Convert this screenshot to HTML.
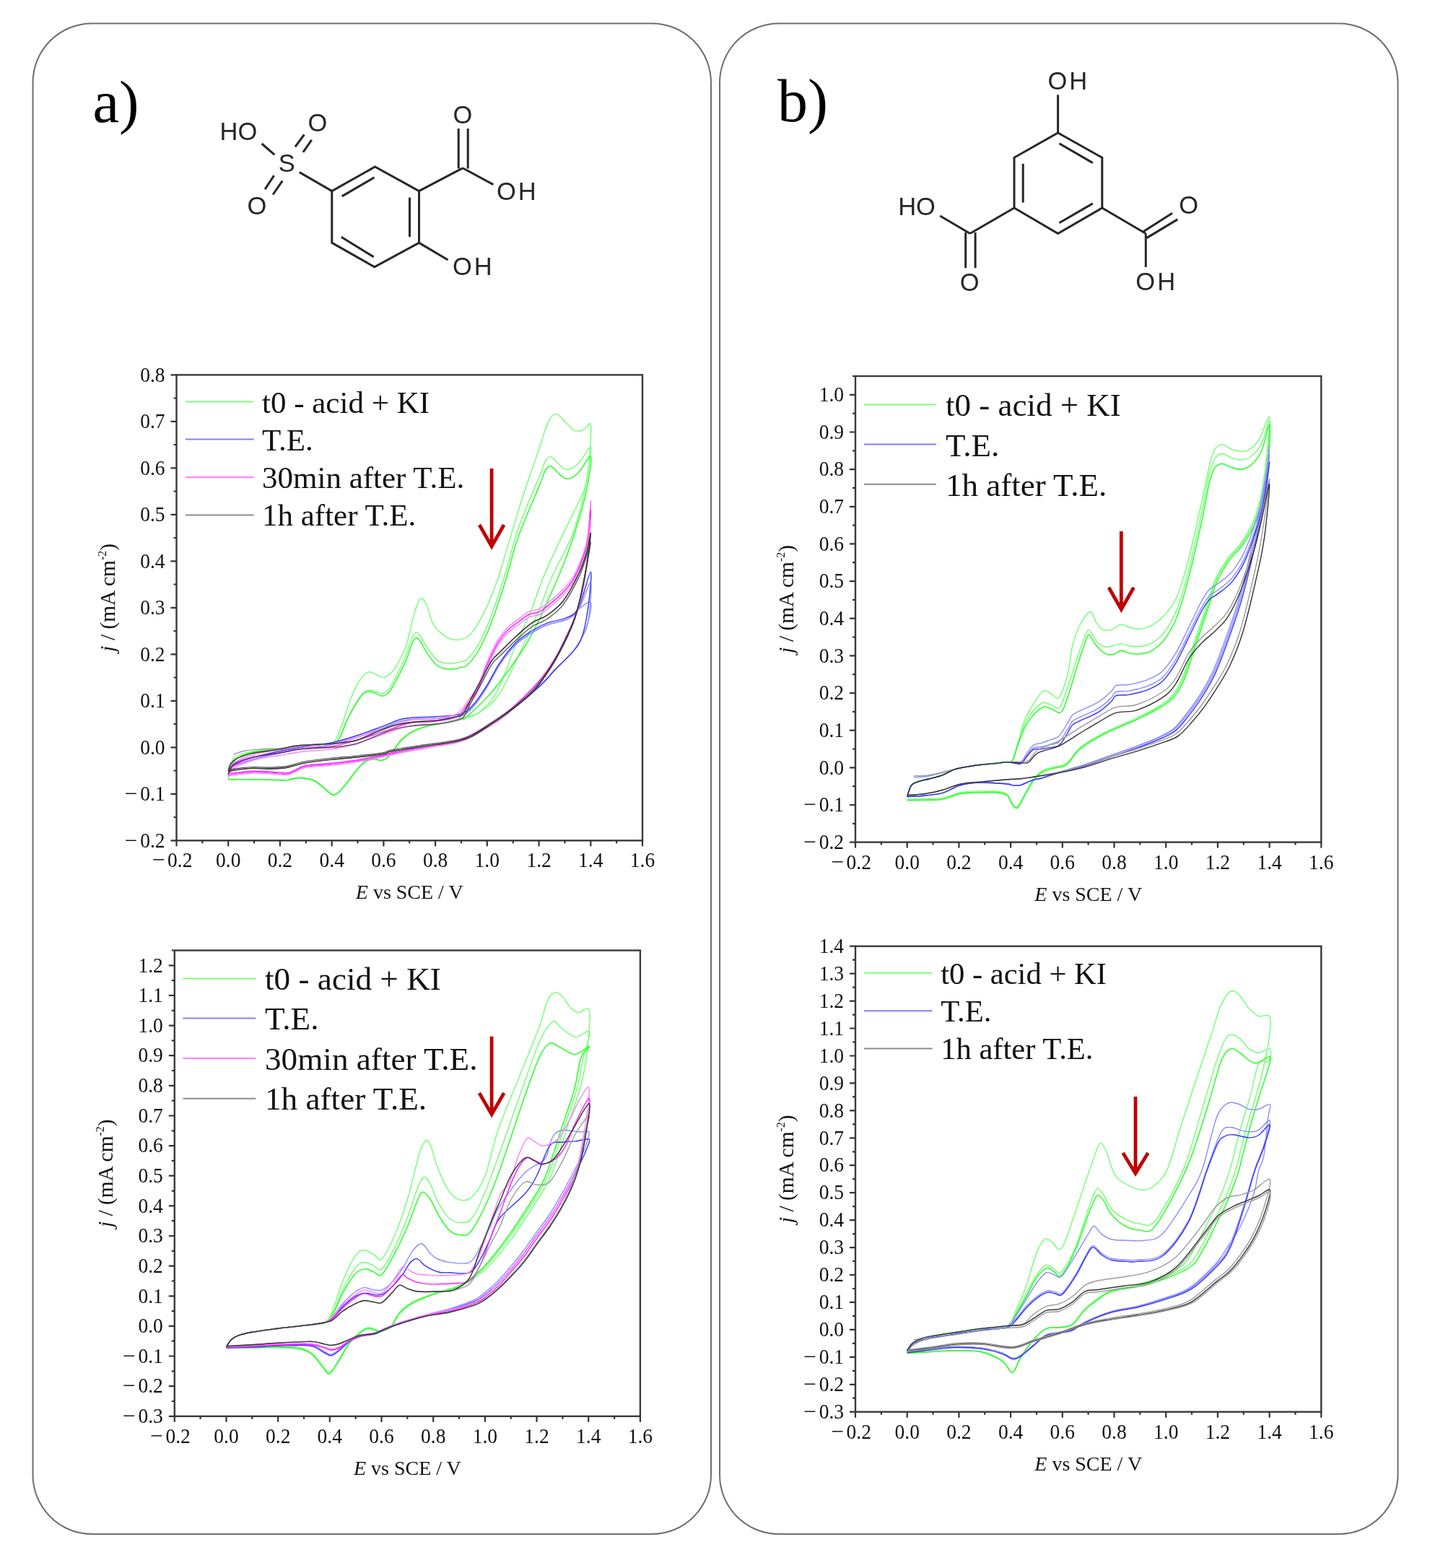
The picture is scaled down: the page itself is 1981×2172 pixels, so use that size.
<!DOCTYPE html><html><head><meta charset="utf-8"><title>CV figure</title>
<style>html,body{margin:0;padding:0;background:#fff;overflow:hidden;}svg{display:block;}</style></head><body>
<svg width="1981" height="2172" viewBox="0 0 1981 2172">
<rect x="0" y="0" width="1981" height="2172" fill="#fff"/>
<rect x="45.5" y="32.5" width="939.5" height="2092.5" rx="82" ry="82" fill="none" stroke="#6e6e6e" stroke-width="2"/>
<rect x="997" y="32.5" width="939.5" height="2092.5" rx="82" ry="82" fill="none" stroke="#6e6e6e" stroke-width="2"/>
<text x="128.5" y="169" font-family="'Liberation Serif','Times New Roman',serif" font-size="82.5" fill="#000">a)</text>
<text x="1077" y="167.8" font-family="'Liberation Serif','Times New Roman',serif" font-size="84" fill="#000">b)</text>
<g stroke="#262626" stroke-width="3" stroke-linecap="butt" fill="none"><polygon points="519.5,231.0 580.5,264.6 580.5,336.4 518.8,369.8 459.8,336.4 459.8,264.6" stroke-linejoin="miter"/><line x1="473.7" y1="271.9" x2="518.5" y2="245.8"/><line x1="567.5" y1="273.6" x2="567.5" y2="328.2"/><line x1="472.8" y1="328.2" x2="517.7" y2="355.9"/><line x1="414.8" y1="238.6" x2="459.8" y2="264.6"/><line x1="362.7" y1="199.0" x2="380.3" y2="214.4"/><line x1="408.9" y1="203.4" x2="421.4" y2="186.5"/><line x1="419.9" y1="210.8" x2="431.7" y2="193.9"/><line x1="379.6" y1="243.1" x2="367.1" y2="262.1"/><line x1="391.3" y1="250.4" x2="378.1" y2="269.5"/><line x1="580.5" y1="264.6" x2="640.9" y2="232.8"/><line x1="635.2" y1="178.1" x2="635.2" y2="233.5"/><line x1="648.2" y1="178.1" x2="648.2" y2="233.5"/><line x1="640.9" y1="232.8" x2="683.3" y2="255.6"/><line x1="580.5" y1="336.4" x2="620.5" y2="360.0"/><polygon points="1465.6,184.0 1526.8,218.3 1526.8,288.0 1465.6,323.5 1405.0,288.0 1405.0,218.3" stroke-linejoin="miter"/><line x1="1467.4" y1="198.7" x2="1513.8" y2="225.6"/><line x1="1417.2" y1="226.8" x2="1417.2" y2="280.6"/><line x1="1467.4" y1="308.8" x2="1513.8" y2="281.9"/><line x1="1465.6" y1="184.0" x2="1465.6" y2="131.4"/><line x1="1405.0" y1="288.0" x2="1343.8" y2="323.5"/><line x1="1337.7" y1="322.0" x2="1337.7" y2="371.2"/><line x1="1351.1" y1="322.0" x2="1351.1" y2="371.2"/><line x1="1343.8" y1="323.5" x2="1302.2" y2="299.0"/><line x1="1526.8" y1="288.0" x2="1587.3" y2="323.5"/><line x1="1583.6" y1="321.0" x2="1624.0" y2="295.3"/><line x1="1588.5" y1="329.6" x2="1631.3" y2="303.9"/><line x1="1587.3" y1="323.5" x2="1587.3" y2="370.0"/></g><g font-family="'Liberation Sans',Arial,sans-serif" font-size="34.5" fill="#262626"><text x="304.5" y="193.8" text-anchor="start" letter-spacing="0">HO</text><text x="426.5" y="181.8" text-anchor="start" letter-spacing="0">O</text><text x="385.8" y="238.4" text-anchor="start" letter-spacing="0">S</text><text x="342.6" y="297.2" text-anchor="start" letter-spacing="0">O</text><text x="627.6" y="170.5" text-anchor="start" letter-spacing="0">O</text><text x="688.0" y="276.6" text-anchor="start" letter-spacing="3">OH</text><text x="626.9" y="381.0" text-anchor="start" letter-spacing="3">OH</text><text x="1451.5" y="123.8" text-anchor="start" letter-spacing="3">OH</text><text x="1244.2" y="297.6" text-anchor="start" letter-spacing="0">HO</text><text x="1329.8" y="402.8" text-anchor="start" letter-spacing="0">O</text><text x="1633.3" y="296.4" text-anchor="start" letter-spacing="0">O</text><text x="1573.3" y="401.6" text-anchor="start" letter-spacing="3">OH</text></g>
<g><path d="M316.2,1064.3 C318.0,1061.6 321.0,1052.2 327.0,1048.2 C333.0,1044.2 341.9,1042.4 352.1,1040.5 C362.2,1038.5 376.0,1037.9 387.9,1036.6 C399.9,1035.3 413.0,1033.8 423.8,1032.7 C434.6,1031.6 445.9,1031.0 452.5,1030.1 C459.1,1029.3 459.7,1032.1 463.3,1027.6 C466.8,1023.0 470.4,1012.5 474.0,1003.0 C477.6,993.6 481.2,980.2 484.8,970.8 C488.4,961.4 492.2,953.0 495.5,946.9 C498.8,940.9 501.8,937.4 504.5,934.7 C507.2,932.0 509.0,930.9 511.7,930.8 C514.4,930.7 517.3,932.7 520.6,934.0 C523.9,935.3 528.1,938.7 531.4,938.5 C534.7,938.4 537.6,935.8 540.4,933.4 C543.1,931.0 544.2,930.7 547.9,924.4 C551.5,918.0 558.0,907.5 562.2,895.3 C566.5,883.2 570.4,861.9 573.3,851.5 C576.3,841.0 578.1,836.5 579.8,832.8 C581.5,829.0 582.2,829.1 583.4,828.9 C584.6,828.7 585.5,829.3 587.0,831.5 C588.5,833.6 590.6,837.3 592.4,841.8 C594.1,846.3 595.6,854.1 597.4,858.6 C599.2,863.1 600.8,865.8 603.1,868.9 C605.4,872.0 608.4,874.8 611.4,877.3 C614.3,879.7 617.9,882.2 621.0,883.7 C624.1,885.2 627.0,886.0 630.0,886.3 C633.0,886.6 635.7,886.6 639.0,885.7 C642.3,884.7 646.0,883.8 649.7,880.5 C653.4,877.2 656.9,872.8 661.2,865.7 C665.5,858.6 670.8,848.5 675.6,837.9 C680.3,827.4 685.3,814.7 689.5,802.5 C693.8,790.2 695.4,783.0 701.0,764.4 C706.6,745.8 715.7,714.5 723.2,690.9 C730.8,667.2 740.6,640.1 746.6,622.5 C752.5,604.9 755.2,593.3 759.1,585.1 C763.0,576.9 766.0,573.7 769.9,573.5 C773.8,573.3 778.5,580.3 782.4,583.8 C786.3,587.3 790.1,592.5 793.2,594.8 C796.3,597.0 798.4,597.3 801.1,597.3 C803.8,597.3 806.4,596.3 809.3,594.8 C812.2,593.3 817.0,582.6 818.3,588.3 C819.5,594.0 818.0,614.7 816.8,628.9 C815.6,643.2 815.1,655.6 811.1,674.1 C807.2,692.6 800.8,719.2 793.2,739.9 C785.5,760.5 772.9,780.6 765.2,797.9 C757.6,815.2 753.9,827.9 747.3,843.7 C740.6,859.5 734.5,873.4 725.4,892.8 C716.3,912.1 703.0,944.1 692.8,959.8 C682.5,975.5 672.9,981.1 664.1,986.9 C655.3,992.7 647.6,992.4 640.0,994.7 C632.5,996.9 627.1,998.5 618.9,1000.5 C610.6,1002.4 598.8,1003.9 590.6,1006.3 C582.3,1008.6 575.3,1011.4 569.4,1014.7 C563.5,1017.9 559.4,1021.5 555.4,1025.6 C551.4,1029.7 548.5,1035.2 545.4,1039.2 C542.3,1043.1 539.7,1047.1 536.8,1049.5 C533.8,1051.9 530.8,1053.0 527.8,1053.4 C524.8,1053.7 522.1,1051.3 518.8,1051.4 C515.6,1051.5 511.4,1052.4 508.1,1054.0 C504.8,1055.6 501.8,1058.5 499.1,1061.1 C496.4,1063.7 495.5,1065.0 491.9,1069.5 C488.4,1074.0 481.5,1083.5 477.6,1088.2 C473.7,1092.9 471.3,1095.7 468.6,1097.9 C465.9,1100.0 463.9,1101.3 461.5,1101.1 C459.1,1100.9 456.7,1098.4 454.3,1096.6 C451.9,1094.7 450.4,1092.7 447.1,1090.1 C443.8,1087.5 439.0,1083.1 434.6,1081.1 C430.1,1079.1 424.4,1078.4 420.2,1077.9 C416.0,1077.3 413.0,1077.4 409.5,1077.9 C405.9,1078.3 402.9,1080.0 398.7,1080.5 C394.5,1080.9 392.1,1080.6 384.4,1080.5 C376.6,1080.3 363.4,1080.0 352.1,1079.8 C340.7,1079.7 322.2,1079.6 316.2,1079.5" fill="none" stroke="#80ff80" stroke-width="1.6" stroke-opacity="1" stroke-linejoin="round"/><path d="M316.2,1067.5 C318.0,1064.9 321.0,1055.7 327.0,1051.4 C333.0,1047.1 341.9,1044.1 352.1,1041.8 C362.2,1039.4 376.0,1038.7 387.9,1037.2 C399.9,1035.7 413.0,1033.8 423.8,1032.7 C434.6,1031.6 445.9,1031.4 452.5,1030.8 C459.1,1030.1 460.3,1030.2 463.3,1028.8 C466.2,1027.5 467.4,1027.8 470.4,1022.4 C473.4,1017.0 477.0,1005.2 481.2,996.6 C485.4,988.0 491.6,977.0 495.5,970.8 C499.4,964.6 501.7,961.7 504.5,959.2 C507.2,956.7 509.3,956.2 512.0,956.0 C514.7,955.7 517.8,957.1 520.6,957.9 C523.5,958.7 526.2,961.0 529.2,960.5 C532.2,959.9 535.5,958.3 538.6,954.7 C541.7,951.0 543.9,946.3 547.9,938.5 C551.8,930.8 558.4,917.4 562.2,908.2 C566.1,899.1 568.4,889.1 570.8,883.7 C573.2,878.3 574.7,876.5 576.6,876.0 C578.5,875.4 580.0,877.3 582.3,880.5 C584.6,883.7 586.9,889.9 590.6,895.3 C594.3,900.8 600.7,909.6 604.5,913.4 C608.4,917.2 610.3,916.9 613.9,917.9 C617.4,918.9 621.5,919.4 625.7,919.2 C629.9,919.0 635.4,917.6 639.0,916.6 C642.5,915.7 643.2,916.9 646.9,913.4 C650.6,909.8 656.4,903.3 661.2,895.3 C666.0,887.4 670.8,877.0 675.6,865.7 C680.3,854.4 684.8,841.7 689.5,827.6 C694.3,813.5 699.2,797.1 703.9,781.2 C708.6,765.3 710.8,752.1 717.9,732.1 C725.0,712.2 740.3,676.8 746.6,661.2 C752.8,645.6 752.8,643.4 755.5,638.6 C758.3,633.9 760.4,632.5 763.1,632.8 C765.7,633.1 768.4,637.8 771.7,640.6 C774.9,643.4 778.8,648.3 782.4,649.6 C786.0,650.9 789.6,650.1 793.2,648.3 C796.8,646.5 799.7,643.5 803.9,638.6 C808.1,633.8 816.4,617.7 818.3,619.3 C820.2,620.9 817.0,638.3 815.4,648.3 C813.9,658.3 814.9,664.0 809.0,679.3 C803.0,694.5 789.2,720.1 779.9,739.9 C770.6,759.7 760.6,780.6 753.4,797.9 C746.1,815.2 743.0,827.9 736.5,843.7 C730.1,859.5 722.8,873.4 714.6,892.8 C706.5,912.1 696.4,943.8 687.4,959.8 C678.4,975.9 668.4,983.1 660.5,988.9 C652.6,994.7 647.0,992.7 640.0,994.7 C633.1,996.6 627.1,998.5 618.9,1000.5 C610.6,1002.4 598.8,1003.9 590.6,1006.3 C582.3,1008.6 575.3,1011.4 569.4,1014.7 C563.5,1017.9 559.4,1021.5 555.4,1025.6 C551.4,1029.7 548.5,1035.2 545.4,1039.2 C542.3,1043.1 539.7,1047.1 536.8,1049.5 C533.8,1051.9 530.8,1053.0 527.8,1053.4 C524.8,1053.7 522.1,1051.3 518.8,1051.4 C515.6,1051.5 511.4,1052.4 508.1,1054.0 C504.8,1055.6 501.8,1058.5 499.1,1061.1 C496.4,1063.7 495.5,1065.0 491.9,1069.5 C488.4,1074.0 481.5,1083.5 477.6,1088.2 C473.7,1092.9 471.3,1095.7 468.6,1097.9 C465.9,1100.0 463.9,1101.3 461.5,1101.1 C459.1,1100.9 456.7,1098.4 454.3,1096.6 C451.9,1094.7 450.4,1092.7 447.1,1090.1 C443.8,1087.5 439.0,1083.1 434.6,1081.1 C430.1,1079.1 424.4,1078.4 420.2,1077.9 C416.0,1077.3 413.0,1077.4 409.5,1077.9 C405.9,1078.3 402.9,1080.0 398.7,1080.5 C394.5,1080.9 392.1,1080.6 384.4,1080.5 C376.6,1080.3 363.4,1080.0 352.1,1079.8 C340.7,1079.7 322.2,1079.6 316.2,1079.5" fill="none" stroke="#80ff80" stroke-width="1.6" stroke-opacity="1" stroke-linejoin="round"/><path d="M316.2,1067.5 C318.0,1064.9 321.0,1055.7 327.0,1051.4 C333.0,1047.1 341.9,1044.1 352.1,1041.8 C362.2,1039.4 376.0,1038.7 387.9,1037.2 C399.9,1035.7 413.0,1033.8 423.8,1032.7 C434.6,1031.6 445.9,1031.4 452.5,1030.8 C459.1,1030.1 460.3,1030.2 463.3,1028.8 C466.2,1027.5 467.4,1027.8 470.4,1022.4 C473.4,1017.0 477.0,1005.2 481.2,996.6 C485.4,988.0 491.6,976.9 495.5,970.8 C499.4,964.7 501.7,962.3 504.5,960.2 C507.2,958.0 509.3,957.7 512.0,957.7 C514.7,957.8 517.8,959.5 520.6,960.6 C523.5,961.7 526.2,964.3 529.2,964.1 C532.2,963.9 535.5,962.6 538.6,959.3 C541.7,956.0 543.9,951.5 547.9,944.2 C551.8,936.9 558.4,924.2 562.2,915.4 C566.1,906.6 568.4,896.7 570.8,891.5 C573.2,886.2 574.7,884.3 576.6,883.7 C578.5,883.2 580.0,885.0 582.3,888.2 C584.6,891.5 586.9,897.6 590.6,903.1 C594.3,908.6 600.7,917.4 604.5,921.1 C608.4,924.9 610.3,924.7 613.9,925.6 C617.4,926.6 621.5,927.2 625.7,926.9 C629.9,926.7 635.4,925.3 639.0,924.4 C642.5,923.5 643.2,924.9 646.9,921.5 C650.6,918.1 656.4,911.9 661.2,904.1 C666.0,896.4 670.8,886.2 675.6,875.2 C680.3,864.1 684.8,851.6 689.5,837.8 C694.3,823.9 699.2,807.7 703.9,792.0 C708.6,776.3 710.8,763.3 717.9,743.7 C725.0,724.0 740.3,689.5 746.6,674.1 C752.8,658.7 752.8,656.3 755.5,651.5 C758.3,646.8 760.4,645.4 763.1,645.7 C765.7,646.0 768.4,650.7 771.7,653.5 C774.9,656.3 778.8,661.2 782.4,662.5 C786.0,663.8 789.6,663.0 793.2,661.2 C796.8,659.4 799.7,656.4 803.9,651.5 C808.1,646.7 816.5,629.5 818.3,632.2 C820.1,634.9 817.1,654.2 814.7,667.6 C812.3,681.1 809.3,694.5 803.9,712.8 C798.6,731.1 790.8,755.4 782.4,777.3 C774.0,799.2 761.7,826.1 753.4,844.4 C745.0,862.7 740.5,872.8 732.2,886.9 C724.0,901.1 713.3,916.5 703.9,929.5 C694.4,942.5 685.5,954.1 675.6,965.0 C665.6,975.9 650.3,989.7 644.4,994.7 C638.4,999.6 644.3,993.7 640.0,994.7 C635.8,995.6 627.1,998.5 618.9,1000.5 C610.6,1002.4 598.8,1003.9 590.6,1006.3 C582.3,1008.6 575.3,1011.4 569.4,1014.7 C563.5,1017.9 559.4,1021.5 555.4,1025.6 C551.4,1029.7 548.5,1035.2 545.4,1039.2 C542.3,1043.1 539.7,1047.1 536.8,1049.5 C533.8,1051.9 530.8,1053.0 527.8,1053.4 C524.8,1053.7 522.1,1051.3 518.8,1051.4 C515.6,1051.5 511.4,1052.4 508.1,1054.0 C504.8,1055.6 501.8,1058.5 499.1,1061.1 C496.4,1063.7 495.5,1065.0 491.9,1069.5 C488.4,1074.0 481.5,1083.5 477.6,1088.2 C473.7,1092.9 471.3,1095.7 468.6,1097.9 C465.9,1100.0 463.9,1101.3 461.5,1101.1 C459.1,1100.9 456.7,1098.4 454.3,1096.6 C451.9,1094.7 450.4,1092.7 447.1,1090.1 C443.8,1087.5 439.0,1083.1 434.6,1081.1 C430.1,1079.1 424.4,1078.4 420.2,1077.9 C416.0,1077.3 413.0,1077.4 409.5,1077.9 C405.9,1078.3 402.9,1080.0 398.7,1080.5 C394.5,1080.9 392.1,1080.6 384.4,1080.5 C376.6,1080.3 363.4,1080.0 352.1,1079.8 C340.7,1079.7 322.2,1079.6 316.2,1079.5" fill="none" stroke="#33ff33" stroke-width="1.6" stroke-opacity="1" stroke-linejoin="round"/><path d="M316.2,1074.0 C316.8,1072.4 318.0,1066.7 319.8,1064.3 C321.6,1062.0 321.6,1062.0 327.0,1059.8 C332.4,1057.7 341.9,1054.2 352.1,1051.4 C362.2,1048.6 376.0,1045.5 387.9,1043.0 C399.9,1040.6 411.9,1038.5 423.8,1036.6 C435.8,1034.7 447.7,1034.0 459.7,1031.4 C471.6,1028.8 483.6,1025.0 495.5,1021.1 C507.5,1017.2 520.6,1012.1 531.4,1008.2 C542.1,1004.3 548.1,1000.0 560.1,997.9 C572.0,995.7 590.0,996.4 603.1,995.3 C616.3,994.2 630.0,994.4 639.0,991.4 C647.9,988.4 650.9,983.9 656.9,977.2 C662.9,970.6 668.9,961.0 674.8,951.4 C680.8,941.9 686.1,929.6 692.8,919.8 C699.4,910.1 707.3,900.0 714.6,892.8 C721.9,885.6 729.3,881.1 736.5,876.6 C743.7,872.1 749.8,868.8 758.0,865.7 C766.2,862.5 778.4,861.6 785.6,857.9 C792.9,854.3 796.3,847.6 801.8,843.7 C807.2,839.9 816.1,831.8 818.3,834.7 C820.4,837.6 816.8,853.0 814.7,861.1 C812.6,869.3 809.3,876.7 805.7,883.7 C802.1,890.7 799.3,895.8 793.2,903.1 C787.1,910.4 776.9,919.5 769.1,927.6 C761.4,935.6 757.4,941.6 746.6,951.4 C735.7,961.3 715.8,977.7 703.9,986.9 C691.9,996.2 685.7,1000.5 674.8,1006.9 C664.0,1013.4 650.9,1021.3 639.0,1025.6 C627.0,1029.9 615.1,1030.5 603.1,1032.7 C591.2,1035.0 579.2,1036.8 567.2,1039.2 C555.3,1041.5 543.3,1044.3 531.4,1046.9 C519.4,1049.5 507.5,1052.6 495.5,1054.6 C483.6,1056.7 471.6,1057.9 459.7,1059.2 C447.7,1060.5 432.2,1061.0 423.8,1062.4 C415.4,1063.8 413.6,1065.8 409.5,1067.5 C405.3,1069.3 402.3,1072.0 398.7,1072.7 C395.1,1073.5 395.7,1072.5 387.9,1072.1 C380.2,1071.6 364.0,1069.8 352.1,1070.1 C340.1,1070.5 322.2,1073.4 316.2,1074.0" fill="none" stroke="#8c8cff" stroke-width="1.4" stroke-opacity="1" stroke-linejoin="round"/><path d="M316.2,1074.0 C316.8,1072.4 318.0,1066.7 319.8,1064.3 C321.6,1062.0 321.6,1062.0 327.0,1059.8 C332.4,1057.7 341.9,1054.2 352.1,1051.4 C362.2,1048.6 376.0,1045.5 387.9,1043.0 C399.9,1040.6 411.9,1038.5 423.8,1036.6 C435.8,1034.7 447.7,1034.0 459.7,1031.4 C471.6,1028.8 483.6,1025.0 495.5,1021.1 C507.5,1017.2 520.6,1012.1 531.4,1008.2 C542.1,1004.3 548.1,1000.0 560.1,997.9 C572.0,995.7 590.0,996.4 603.1,995.3 C616.3,994.2 630.0,994.4 639.0,991.4 C647.9,988.4 650.9,983.9 656.9,977.2 C662.9,970.6 668.9,961.0 674.8,951.4 C680.8,941.9 686.1,929.6 692.8,919.8 C699.4,910.1 707.3,900.0 714.6,892.8 C721.9,885.6 729.3,881.1 736.5,876.6 C743.7,872.1 749.8,868.8 758.0,865.7 C766.2,862.5 778.4,861.6 785.6,857.9 C792.9,854.3 796.3,852.1 801.8,843.7 C807.2,835.3 816.1,804.7 818.3,807.6 C820.4,810.5 816.8,848.5 814.7,861.1 C812.6,873.8 809.3,876.7 805.7,883.7 C802.1,890.7 799.3,895.8 793.2,903.1 C787.1,910.4 776.9,919.5 769.1,927.6 C761.4,935.6 757.4,941.6 746.6,951.4 C735.7,961.3 715.8,977.7 703.9,986.9 C691.9,996.2 685.7,1000.5 674.8,1006.9 C664.0,1013.4 650.9,1021.3 639.0,1025.6 C627.0,1029.9 615.1,1030.5 603.1,1032.7 C591.2,1035.0 579.2,1036.8 567.2,1039.2 C555.3,1041.5 543.3,1044.3 531.4,1046.9 C519.4,1049.5 507.5,1052.6 495.5,1054.6 C483.6,1056.7 471.6,1057.9 459.7,1059.2 C447.7,1060.5 432.2,1061.0 423.8,1062.4 C415.4,1063.8 413.6,1065.8 409.5,1067.5 C405.3,1069.3 402.3,1072.0 398.7,1072.7 C395.1,1073.5 395.7,1072.5 387.9,1072.1 C380.2,1071.6 364.0,1069.8 352.1,1070.1 C340.1,1070.5 322.2,1073.4 316.2,1074.0" fill="none" stroke="#8c8cff" stroke-width="1.4" stroke-opacity="1" stroke-linejoin="round"/><path d="M316.2,1071.4 C316.8,1069.8 318.0,1064.1 319.8,1061.7 C321.6,1059.4 321.6,1059.4 327.0,1057.2 C332.4,1055.1 341.9,1051.6 352.1,1048.8 C362.2,1046.0 376.0,1042.9 387.9,1040.5 C399.9,1038.0 411.9,1035.9 423.8,1034.0 C435.8,1032.1 447.7,1031.4 459.7,1028.8 C471.6,1026.3 483.6,1022.4 495.5,1018.5 C507.5,1014.7 520.6,1009.5 531.4,1005.6 C542.1,1001.8 548.1,997.5 560.1,995.3 C572.0,993.2 590.0,993.8 603.1,992.7 C616.3,991.7 630.0,991.9 639.0,988.9 C647.9,985.8 650.9,981.3 656.9,974.7 C662.9,968.0 668.9,958.4 674.8,948.9 C680.8,939.3 686.1,927.0 692.8,917.3 C699.4,907.5 707.3,897.4 714.6,890.2 C721.9,883.0 729.3,878.6 736.5,874.0 C743.7,869.5 749.8,866.2 758.0,863.1 C766.2,860.0 778.4,859.0 785.6,855.3 C792.9,851.7 796.3,851.7 801.8,841.2 C807.2,830.6 816.1,792.0 818.3,792.1 C820.4,792.2 816.8,826.5 814.7,841.8 C812.6,857.1 809.3,873.5 805.7,883.7 C802.1,893.9 799.3,895.8 793.2,903.1 C787.1,910.4 776.9,919.5 769.1,927.6 C761.4,935.6 757.4,941.6 746.6,951.4 C735.7,961.3 715.8,977.7 703.9,986.9 C691.9,996.2 685.7,1000.5 674.8,1006.9 C664.0,1013.4 650.9,1021.3 639.0,1025.6 C627.0,1029.9 615.1,1030.5 603.1,1032.7 C591.2,1035.0 579.2,1036.8 567.2,1039.2 C555.3,1041.5 543.3,1044.3 531.4,1046.9 C519.4,1049.5 507.5,1052.6 495.5,1054.6 C483.6,1056.7 471.6,1057.9 459.7,1059.2 C447.7,1060.5 432.2,1061.0 423.8,1062.4 C415.4,1063.8 413.6,1065.8 409.5,1067.5 C405.3,1069.3 402.3,1072.0 398.7,1072.7 C395.1,1073.5 395.7,1072.5 387.9,1072.1 C380.2,1071.6 364.0,1069.8 352.1,1070.1 C340.1,1070.5 322.2,1073.4 316.2,1074.0" fill="none" stroke="#3333ff" stroke-width="1.4" stroke-opacity="1" stroke-linejoin="round"/><path d="M316.2,1070.8 C316.8,1069.2 318.0,1063.8 319.8,1061.1 C321.6,1058.4 321.6,1057.3 327.0,1054.6 C332.4,1052.0 341.9,1047.7 352.1,1045.0 C362.2,1042.3 376.0,1040.6 387.9,1038.5 C399.9,1036.5 411.9,1034.1 423.8,1032.7 C435.8,1031.3 447.7,1032.1 459.7,1030.1 C471.6,1028.2 483.6,1024.5 495.5,1021.1 C507.5,1017.7 519.4,1013.4 531.4,1009.5 C543.3,1005.6 555.3,1000.3 567.2,997.9 C579.2,995.5 592.1,996.8 603.1,995.3 C614.1,993.8 625.9,992.7 633.2,988.9 C640.6,985.0 642.5,978.4 647.2,972.1 C651.9,965.7 656.8,960.3 661.6,950.8 C666.3,941.3 670.9,926.0 675.6,915.3 C680.2,904.7 684.9,894.7 689.5,886.9 C694.2,879.2 698.8,873.7 703.5,868.9 C708.2,864.1 713.1,861.5 717.9,857.9 C722.6,854.4 727.4,850.0 732.2,847.6 C737.0,845.2 742.3,845.7 746.6,843.7 C750.9,841.8 752.5,840.5 758.0,836.0 C763.6,831.5 773.5,823.5 779.9,816.6 C786.3,809.8 790.9,805.7 796.4,794.7 C801.9,783.7 809.3,767.7 812.9,750.9 C816.5,734.0 817.9,692.3 818.3,693.5 C818.7,694.6 817.2,737.5 815.4,757.9 C813.6,778.4 810.6,799.9 807.5,816.0 C804.4,832.1 800.9,842.9 796.8,854.7 C792.6,866.5 787.0,877.3 782.4,886.9 C777.8,896.6 775.1,903.1 769.1,912.8 C763.2,922.4 757.4,932.6 746.6,945.0 C735.7,957.4 715.8,976.6 703.9,986.9 C691.9,997.2 685.7,1000.5 674.8,1006.9 C664.0,1013.4 650.9,1021.3 639.0,1025.6 C627.0,1029.9 615.1,1030.5 603.1,1032.7 C591.2,1035.0 579.2,1036.8 567.2,1039.2 C555.3,1041.5 543.3,1044.4 531.4,1046.9 C519.4,1049.4 507.5,1052.1 495.5,1054.0 C483.6,1055.9 471.6,1057.2 459.7,1058.5 C447.7,1059.8 432.2,1060.2 423.8,1061.7 C415.4,1063.2 413.6,1065.8 409.5,1067.5 C405.3,1069.3 402.3,1071.4 398.7,1072.1 C395.1,1072.7 395.7,1071.8 387.9,1071.4 C380.2,1071.0 364.0,1069.3 352.1,1069.5 C340.1,1069.7 322.2,1072.2 316.2,1072.7" fill="none" stroke="#ff80ff" stroke-width="1.4" stroke-opacity="1" stroke-linejoin="round"/><path d="M316.2,1074.6 C316.8,1073.0 318.0,1067.7 319.8,1065.0 C321.6,1062.3 321.6,1061.2 327.0,1058.5 C332.4,1055.8 341.9,1051.5 352.1,1048.8 C362.2,1046.2 376.0,1044.4 387.9,1042.4 C399.9,1040.4 411.9,1038.0 423.8,1036.6 C435.8,1035.2 447.7,1035.9 459.7,1034.0 C471.6,1032.1 483.6,1028.4 495.5,1025.0 C507.5,1021.5 519.4,1017.2 531.4,1013.4 C543.3,1009.5 555.3,1004.1 567.2,1001.8 C579.2,999.4 592.1,1000.7 603.1,999.2 C614.1,997.7 625.9,996.6 633.2,992.7 C640.6,988.9 642.5,982.3 647.2,976.0 C651.9,969.6 656.8,964.1 661.6,954.7 C666.3,945.2 670.9,929.8 675.6,919.2 C680.2,908.6 684.9,898.6 689.5,890.8 C694.2,883.1 698.8,877.6 703.5,872.8 C708.2,867.9 713.1,865.3 717.9,861.8 C722.6,858.2 727.4,853.8 732.2,851.5 C737.0,849.1 742.3,849.5 746.6,847.6 C750.9,845.7 752.5,844.4 758.0,839.9 C763.6,835.4 773.5,827.4 779.9,820.5 C786.3,813.6 790.9,809.6 796.4,798.6 C801.9,787.6 809.3,770.1 812.9,754.7 C816.5,739.4 817.9,706.0 818.3,706.3 C818.7,706.7 817.2,738.6 815.4,756.7 C813.6,774.7 810.6,798.6 807.5,814.7 C804.4,830.8 800.9,841.6 796.8,853.4 C792.6,865.2 787.0,876.0 782.4,885.7 C777.8,895.3 775.1,901.8 769.1,911.5 C763.2,921.1 757.4,931.3 746.6,943.7 C735.7,956.1 715.8,975.3 703.9,985.6 C691.9,996.0 685.7,999.2 674.8,1005.6 C664.0,1012.1 650.9,1020.0 639.0,1024.3 C627.0,1028.6 615.1,1029.2 603.1,1031.4 C591.2,1033.7 579.2,1035.5 567.2,1037.9 C555.3,1040.2 543.3,1043.1 531.4,1045.6 C519.4,1048.1 507.5,1050.8 495.5,1052.7 C483.6,1054.6 471.6,1055.9 459.7,1057.2 C447.7,1058.5 432.2,1058.9 423.8,1060.5 C415.4,1062.0 413.6,1064.5 409.5,1066.3 C405.3,1068.0 402.3,1070.1 398.7,1070.8 C395.1,1071.4 395.7,1070.6 387.9,1070.1 C380.2,1069.7 364.0,1068.0 352.1,1068.2 C340.1,1068.4 322.2,1070.9 316.2,1071.4" fill="none" stroke="#ff1aff" stroke-width="1.4" stroke-opacity="1" stroke-linejoin="round"/><path d="M316.2,1078.5 C316.8,1076.9 318.0,1071.5 319.8,1068.8 C321.6,1066.2 321.6,1065.1 327.0,1062.4 C332.4,1059.7 341.9,1055.4 352.1,1052.7 C362.2,1050.0 376.0,1048.3 387.9,1046.3 C399.9,1044.2 411.9,1041.9 423.8,1040.5 C435.8,1039.1 447.7,1039.8 459.7,1037.9 C471.6,1035.9 483.6,1032.3 495.5,1028.8 C507.5,1025.4 519.4,1021.1 531.4,1017.2 C543.3,1013.4 555.3,1008.0 567.2,1005.6 C579.2,1003.3 592.1,1004.6 603.1,1003.0 C614.1,1001.5 625.9,1000.5 633.2,996.6 C640.6,992.7 642.5,986.2 647.2,979.8 C651.9,973.5 656.8,968.0 661.6,958.5 C666.3,949.1 670.9,933.7 675.6,923.1 C680.2,912.4 684.9,902.4 689.5,894.7 C694.2,886.9 698.8,881.5 703.5,876.6 C708.2,871.8 713.1,869.2 717.9,865.7 C722.6,862.1 727.4,857.7 732.2,855.3 C737.0,853.0 742.3,853.4 746.6,851.5 C750.9,849.5 752.5,848.2 758.0,843.7 C763.6,839.2 773.5,831.3 779.9,824.4 C786.3,817.5 790.9,813.4 796.4,802.5 C801.9,791.5 809.3,772.5 812.9,758.6 C816.5,744.7 817.9,719.1 818.3,719.2 C818.7,719.4 817.2,742.9 815.4,759.2 C813.6,775.6 810.6,801.2 807.5,817.3 C804.4,833.4 800.9,844.2 796.8,856.0 C792.6,867.8 787.0,878.6 782.4,888.2 C777.8,897.9 775.1,904.4 769.1,914.0 C763.2,923.7 757.4,933.9 746.6,946.3 C735.7,958.7 715.8,977.9 703.9,988.2 C691.9,998.5 685.7,1001.8 674.8,1008.2 C664.0,1014.7 650.9,1022.6 639.0,1026.9 C627.0,1031.2 615.1,1031.8 603.1,1034.0 C591.2,1036.3 579.2,1038.1 567.2,1040.5 C555.3,1042.8 543.3,1045.7 531.4,1048.2 C519.4,1050.7 507.5,1053.4 495.5,1055.3 C483.6,1057.2 471.6,1058.5 459.7,1059.8 C447.7,1061.1 432.2,1061.5 423.8,1063.0 C415.4,1064.5 413.6,1067.1 409.5,1068.8 C405.3,1070.6 402.3,1072.7 398.7,1073.4 C395.1,1074.0 395.7,1073.1 387.9,1072.7 C380.2,1072.3 364.0,1070.6 352.1,1070.8 C340.1,1071.0 322.2,1073.5 316.2,1074.0" fill="none" stroke="#ff80ff" stroke-width="1.4" stroke-opacity="1" stroke-linejoin="round"/><path d="M323.4,1045.0 C325.8,1044.2 331.8,1041.6 337.7,1040.5 C343.7,1039.3 350.9,1038.5 359.3,1037.9 C367.6,1037.2 379.0,1037.4 387.9,1036.6 C396.9,1035.7 401.1,1033.8 413.0,1032.7 C425.0,1031.6 448.9,1030.9 459.7,1030.1 C470.4,1029.4 471.6,1029.1 477.6,1028.2 C483.6,1027.3 488.5,1027.2 495.5,1025.0 C502.6,1022.7 511.1,1018.1 519.9,1014.7 C528.7,1011.2 538.8,1006.8 548.2,1004.3 C557.7,1001.9 567.1,1000.9 576.6,999.8 C586.0,998.8 595.5,999.1 604.9,997.9 C614.3,996.7 626.9,994.6 633.2,992.7 C639.6,990.9 639.4,991.7 642.9,986.9 C646.4,982.2 650.1,972.4 654.4,964.3 C658.6,956.3 663.8,946.8 668.4,938.5 C672.9,930.3 677.6,920.6 681.6,914.7 C685.7,908.8 687.3,908.6 692.8,903.1 C698.3,897.6 707.3,888.5 714.6,881.8 C721.9,875.1 729.3,868.0 736.5,863.1 C743.7,858.1 750.8,857.2 758.0,852.1 C765.3,847.1 772.6,842.3 779.9,832.8 C787.2,823.2 796.3,806.1 801.8,794.7 C807.3,783.3 810.1,773.8 812.9,764.4 C815.6,755.0 818.3,735.4 818.3,738.6 C818.3,741.8 815.6,767.2 812.9,783.7 C810.1,800.3 805.4,823.4 801.8,837.9 C798.1,852.4 796.5,858.0 791.0,870.8 C785.6,883.6 776.4,901.9 769.1,914.7 C761.9,927.5 753.4,939.3 747.3,947.6 C741.1,955.9 739.4,957.8 732.2,964.3 C725.0,970.9 713.3,979.9 703.9,986.9 C694.4,993.9 683.8,1000.8 675.6,1006.3 C667.3,1011.8 661.4,1016.4 654.4,1019.8 C647.3,1023.3 641.5,1025.0 633.2,1026.9 C625.0,1028.8 614.3,1030.0 604.9,1031.4 C595.5,1032.8 587.2,1033.7 576.6,1035.3 C565.9,1036.9 548.6,1039.6 541.1,1041.1 C533.5,1042.6 539.0,1043.0 531.4,1044.3 C523.8,1045.6 507.5,1047.6 495.5,1048.8 C483.6,1050.1 471.6,1050.8 459.7,1052.1 C447.7,1053.4 432.8,1055.1 423.8,1056.6 C414.8,1058.1 410.7,1059.9 405.9,1061.1 C401.1,1062.3 401.1,1063.0 395.1,1063.7 C389.1,1064.3 377.2,1064.9 370.0,1065.0 C362.8,1065.1 358.1,1064.2 352.1,1064.3 C346.1,1064.4 340.1,1065.0 334.2,1065.6 C328.2,1066.3 319.2,1067.8 316.2,1068.2" fill="none" stroke="#9a9a9a" stroke-width="1.4" stroke-opacity="1" stroke-linejoin="round"/><path d="M316.2,1067.5 C316.8,1065.9 318.0,1060.6 319.8,1057.9 C321.6,1055.2 324.0,1053.3 327.0,1051.4 C330.0,1049.6 333.6,1048.3 337.7,1046.9 C341.9,1045.5 343.7,1044.5 352.1,1043.0 C360.5,1041.5 377.8,1039.6 387.9,1037.9 C398.1,1036.2 401.1,1034.0 413.0,1032.7 C425.0,1031.4 448.9,1030.9 459.7,1030.1 C470.4,1029.4 471.6,1029.1 477.6,1028.2 C483.6,1027.3 488.5,1027.2 495.5,1025.0 C502.6,1022.7 511.1,1018.1 519.9,1014.7 C528.7,1011.2 538.8,1006.8 548.2,1004.3 C557.7,1001.9 567.1,1000.9 576.6,999.8 C586.0,998.8 595.5,999.1 604.9,997.9 C614.3,996.7 626.9,994.6 633.2,992.7 C639.6,990.9 639.4,991.7 642.9,986.9 C646.4,982.2 650.1,972.4 654.4,964.3 C658.6,956.3 663.8,946.8 668.4,938.5 C672.9,930.3 677.6,920.6 681.6,914.7 C685.7,908.8 687.3,908.6 692.8,903.1 C698.3,897.6 707.3,888.5 714.6,881.8 C721.9,875.1 729.3,868.0 736.5,863.1 C743.7,858.1 750.8,857.2 758.0,852.1 C765.3,847.1 772.6,842.3 779.9,832.8 C787.2,823.2 796.3,806.1 801.8,794.7 C807.3,783.3 810.1,773.8 812.9,764.4 C815.6,755.0 818.3,735.4 818.3,738.6 C818.3,741.8 815.6,767.2 812.9,783.7 C810.1,800.3 805.4,823.4 801.8,837.9 C798.1,852.4 796.5,858.0 791.0,870.8 C785.6,883.6 776.4,901.9 769.1,914.7 C761.9,927.5 753.4,939.3 747.3,947.6 C741.1,955.9 739.4,957.8 732.2,964.3 C725.0,970.9 713.3,979.9 703.9,986.9 C694.4,993.9 683.8,1000.8 675.6,1006.3 C667.3,1011.8 661.4,1016.4 654.4,1019.8 C647.3,1023.3 641.5,1025.0 633.2,1026.9 C625.0,1028.8 614.3,1030.0 604.9,1031.4 C595.5,1032.8 587.2,1033.7 576.6,1035.3 C565.9,1036.9 548.6,1039.6 541.1,1041.1 C533.5,1042.6 539.0,1043.0 531.4,1044.3 C523.8,1045.6 507.5,1047.6 495.5,1048.8 C483.6,1050.1 471.6,1050.8 459.7,1052.1 C447.7,1053.4 432.8,1055.1 423.8,1056.6 C414.8,1058.1 410.7,1059.9 405.9,1061.1 C401.1,1062.3 401.1,1063.0 395.1,1063.7 C389.1,1064.3 377.2,1064.9 370.0,1065.0 C362.8,1065.1 358.1,1064.2 352.1,1064.3 C346.1,1064.4 340.1,1065.0 334.2,1065.6 C328.2,1066.3 319.2,1067.8 316.2,1068.2" fill="none" stroke="#333333" stroke-width="1.4" stroke-opacity="1" stroke-linejoin="round"/><path d="M316.2,1072.7 C316.8,1071.1 318.0,1065.7 319.8,1063.0 C321.6,1060.3 324.0,1058.4 327.0,1056.6 C330.0,1054.8 333.6,1053.5 337.7,1052.1 C341.9,1050.7 343.7,1049.7 352.1,1048.2 C360.5,1046.7 377.8,1044.8 387.9,1043.0 C398.1,1041.3 401.1,1039.2 413.0,1037.9 C425.0,1036.6 448.9,1036.1 459.7,1035.3 C470.4,1034.5 471.6,1034.2 477.6,1033.4 C483.6,1032.5 488.5,1032.4 495.5,1030.1 C502.6,1027.9 511.1,1023.3 519.9,1019.8 C528.7,1016.4 538.8,1012.0 548.2,1009.5 C557.7,1007.0 567.1,1006.1 576.6,1005.0 C586.0,1003.9 595.5,1004.2 604.9,1003.0 C614.3,1001.9 626.9,999.7 633.2,997.9 C639.6,996.1 639.4,996.8 642.9,992.1 C646.4,987.4 650.1,977.6 654.4,969.5 C658.6,961.4 663.8,952.0 668.4,943.7 C672.9,935.4 677.6,925.8 681.6,919.8 C685.7,913.9 687.3,913.7 692.8,908.2 C698.3,902.8 707.3,893.6 714.6,886.9 C721.9,880.3 729.3,873.2 736.5,868.2 C743.7,863.3 750.8,862.3 758.0,857.3 C765.3,852.2 772.6,847.5 779.9,837.9 C787.2,828.4 796.3,811.3 801.8,799.9 C807.3,788.5 810.1,777.6 812.9,769.6 C815.6,761.5 818.3,749.5 818.3,751.5 C818.3,753.5 815.6,767.7 812.9,781.8 C810.1,795.9 805.4,821.5 801.8,836.0 C798.1,850.5 796.5,856.1 791.0,868.9 C785.6,881.7 776.4,900.0 769.1,912.8 C761.9,925.5 753.4,937.4 747.3,945.6 C741.1,953.9 739.4,955.9 732.2,962.4 C725.0,969.0 713.3,978.0 703.9,985.0 C694.4,992.0 683.8,998.9 675.6,1004.3 C667.3,1009.8 661.4,1014.4 654.4,1017.9 C647.3,1021.3 641.5,1023.0 633.2,1025.0 C625.0,1026.9 614.3,1028.1 604.9,1029.5 C595.5,1030.9 587.2,1031.8 576.6,1033.4 C565.9,1035.0 548.6,1037.7 541.1,1039.2 C533.5,1040.7 539.0,1041.1 531.4,1042.4 C523.8,1043.7 507.5,1045.6 495.5,1046.9 C483.6,1048.2 471.6,1048.8 459.7,1050.1 C447.7,1051.4 432.8,1053.1 423.8,1054.6 C414.8,1056.2 410.7,1058.0 405.9,1059.2 C401.1,1060.3 401.1,1061.1 395.1,1061.7 C389.1,1062.4 377.2,1062.9 370.0,1063.0 C362.8,1063.1 358.1,1062.3 352.1,1062.4 C346.1,1062.5 340.1,1063.0 334.2,1063.7 C328.2,1064.3 319.2,1065.8 316.2,1066.3" fill="none" stroke="#333333" stroke-width="1.4" stroke-opacity="0.8" stroke-linejoin="round"/></g>
<rect x="244.5" y="519.3" width="645.5" height="645.0" fill="none" stroke="#3a3a3a" stroke-width="2.4"/>
<path d="M244.5,1164.3V1172.3 M280.4,1164.3V1168.3 M316.2,1164.3V1172.3 M352.1,1164.3V1168.3 M387.9,1164.3V1172.3 M423.8,1164.3V1168.3 M459.7,1164.3V1172.3 M495.5,1164.3V1168.3 M531.4,1164.3V1172.3 M567.2,1164.3V1168.3 M603.1,1164.3V1172.3 M639.0,1164.3V1168.3 M674.8,1164.3V1172.3 M710.7,1164.3V1168.3 M746.6,1164.3V1172.3 M782.4,1164.3V1168.3 M818.3,1164.3V1172.3 M854.1,1164.3V1168.3 M890.0,1164.3V1172.3 M244.5,1164.3H236.5 M244.5,1132.0H240.5 M244.5,1099.8H236.5 M244.5,1067.5H240.5 M244.5,1035.3H236.5 M244.5,1003.0H240.5 M244.5,970.8H236.5 M244.5,938.5H240.5 M244.5,906.3H236.5 M244.5,874.0H240.5 M244.5,841.8H236.5 M244.5,809.5H240.5 M244.5,777.3H236.5 M244.5,745.0H240.5 M244.5,712.8H236.5 M244.5,680.5H240.5 M244.5,648.3H236.5 M244.5,616.0H240.5 M244.5,583.8H236.5 M244.5,551.5H240.5 M244.5,519.3H236.5" stroke="#333" stroke-width="2.2" fill="none"/>
<text transform="translate(232.1,1201.3) scale(1,1.1)" font-family="'Liberation Serif','Times New Roman',serif" font-size="27.5" text-anchor="start" fill="#111">0.2</text>
<text transform="translate(228.3,1201.3) scale(1.15,1.1)" font-family="'Liberation Serif','Times New Roman',serif" font-size="27.5" text-anchor="end" fill="#111">−</text>
<text transform="translate(316.2,1201.3) scale(1,1.1)" font-family="'Liberation Serif','Times New Roman',serif" font-size="27.5" text-anchor="middle" fill="#111">0.0</text>
<text transform="translate(387.9,1201.3) scale(1,1.1)" font-family="'Liberation Serif','Times New Roman',serif" font-size="27.5" text-anchor="middle" fill="#111">0.2</text>
<text transform="translate(459.7,1201.3) scale(1,1.1)" font-family="'Liberation Serif','Times New Roman',serif" font-size="27.5" text-anchor="middle" fill="#111">0.4</text>
<text transform="translate(531.4,1201.3) scale(1,1.1)" font-family="'Liberation Serif','Times New Roman',serif" font-size="27.5" text-anchor="middle" fill="#111">0.6</text>
<text transform="translate(603.1,1201.3) scale(1,1.1)" font-family="'Liberation Serif','Times New Roman',serif" font-size="27.5" text-anchor="middle" fill="#111">0.8</text>
<text transform="translate(674.8,1201.3) scale(1,1.1)" font-family="'Liberation Serif','Times New Roman',serif" font-size="27.5" text-anchor="middle" fill="#111">1.0</text>
<text transform="translate(746.6,1201.3) scale(1,1.1)" font-family="'Liberation Serif','Times New Roman',serif" font-size="27.5" text-anchor="middle" fill="#111">1.2</text>
<text transform="translate(818.3,1201.3) scale(1,1.1)" font-family="'Liberation Serif','Times New Roman',serif" font-size="27.5" text-anchor="middle" fill="#111">1.4</text>
<text transform="translate(890.0,1201.3) scale(1,1.1)" font-family="'Liberation Serif','Times New Roman',serif" font-size="27.5" text-anchor="middle" fill="#111">1.6</text>
<text transform="translate(228.5,1173.5) scale(1,1.08)" font-family="'Liberation Serif','Times New Roman',serif" font-size="27.5" text-anchor="end" fill="#111">0.2</text>
<text transform="translate(190.5,1173.5) scale(1.15,1.08)" font-family="'Liberation Serif','Times New Roman',serif" font-size="27.5" text-anchor="end" fill="#111">−</text>
<text transform="translate(228.5,1109.0) scale(1,1.08)" font-family="'Liberation Serif','Times New Roman',serif" font-size="27.5" text-anchor="end" fill="#111">0.1</text>
<text transform="translate(190.5,1109.0) scale(1.15,1.08)" font-family="'Liberation Serif','Times New Roman',serif" font-size="27.5" text-anchor="end" fill="#111">−</text>
<text transform="translate(228.5,1044.5) scale(1,1.08)" font-family="'Liberation Serif','Times New Roman',serif" font-size="27.5" text-anchor="end" fill="#111">0.0</text>
<text transform="translate(228.5,980.0) scale(1,1.08)" font-family="'Liberation Serif','Times New Roman',serif" font-size="27.5" text-anchor="end" fill="#111">0.1</text>
<text transform="translate(228.5,915.5) scale(1,1.08)" font-family="'Liberation Serif','Times New Roman',serif" font-size="27.5" text-anchor="end" fill="#111">0.2</text>
<text transform="translate(228.5,851.0) scale(1,1.08)" font-family="'Liberation Serif','Times New Roman',serif" font-size="27.5" text-anchor="end" fill="#111">0.3</text>
<text transform="translate(228.5,786.5) scale(1,1.08)" font-family="'Liberation Serif','Times New Roman',serif" font-size="27.5" text-anchor="end" fill="#111">0.4</text>
<text transform="translate(228.5,722.0) scale(1,1.08)" font-family="'Liberation Serif','Times New Roman',serif" font-size="27.5" text-anchor="end" fill="#111">0.5</text>
<text transform="translate(228.5,657.5) scale(1,1.08)" font-family="'Liberation Serif','Times New Roman',serif" font-size="27.5" text-anchor="end" fill="#111">0.6</text>
<text transform="translate(228.5,593.0) scale(1,1.08)" font-family="'Liberation Serif','Times New Roman',serif" font-size="27.5" text-anchor="end" fill="#111">0.7</text>
<text transform="translate(228.5,528.5) scale(1,1.08)" font-family="'Liberation Serif','Times New Roman',serif" font-size="27.5" text-anchor="end" fill="#111">0.8</text>
<text x="567.2" y="1245.3" font-family="'Liberation Serif','Times New Roman',serif" font-size="28" text-anchor="middle" fill="#111"><tspan font-style="italic">E</tspan> vs SCE / V</text>
<text transform="translate(158.5,827.8) rotate(-90)" font-family="'Liberation Serif','Times New Roman',serif" font-size="29.4" text-anchor="middle" fill="#111"><tspan font-style="italic">j</tspan> / (mA cm<tspan font-size="16" dy="-12">-2</tspan><tspan dy="12">)</tspan></text>
<g><path d="M1256.7,1103.6 C1257.7,1100.9 1259.8,1091.2 1262.8,1087.6 C1265.8,1084.0 1270.5,1083.4 1274.6,1081.9 C1278.7,1080.4 1282.3,1080.2 1287.5,1078.8 C1292.7,1077.4 1299.8,1075.9 1305.8,1073.6 C1311.8,1071.4 1317.4,1067.3 1323.4,1065.4 C1329.4,1063.4 1335.6,1062.8 1341.7,1061.8 C1347.7,1060.7 1352.8,1059.9 1359.6,1059.2 C1366.3,1058.4 1376.2,1057.7 1382.2,1057.1 C1388.1,1056.5 1392.0,1056.2 1395.4,1055.6 C1398.8,1055.0 1400.0,1058.2 1402.6,1053.5 C1405.2,1048.8 1408.3,1035.8 1410.9,1027.2 C1413.4,1018.5 1414.6,1009.9 1418.0,1001.3 C1421.4,992.7 1426.7,982.9 1431.3,975.5 C1435.9,968.1 1441.3,959.1 1445.6,956.9 C1450.0,954.7 1453.9,960.6 1457.5,962.1 C1461.0,963.5 1463.6,970.3 1467.1,965.7 C1470.7,961.0 1475.8,946.3 1479.0,934.2 C1482.1,922.0 1483.4,904.1 1486.1,892.9 C1488.9,881.7 1491.5,874.6 1495.5,867.0 C1499.5,859.5 1506.3,848.3 1510.2,847.4 C1514.0,846.6 1515.5,857.7 1518.4,861.9 C1521.3,866.0 1523.8,870.5 1527.4,872.2 C1531.0,873.9 1535.6,873.4 1539.9,872.2 C1544.2,871.0 1549.0,865.5 1553.2,865.0 C1557.4,864.5 1560.6,868.1 1565.0,869.1 C1569.4,870.1 1574.9,871.3 1579.3,871.2 C1583.8,871.0 1586.7,870.8 1591.9,868.1 C1597.1,865.3 1604.3,861.3 1610.5,854.6 C1616.8,848.0 1623.5,841.7 1629.5,828.3 C1635.6,814.9 1640.9,796.3 1646.7,774.1 C1652.6,751.9 1659.9,716.6 1664.7,695.1 C1669.5,673.5 1672.3,657.2 1675.4,645.0 C1678.5,632.7 1680.3,626.6 1683.3,621.7 C1686.3,616.8 1689.8,615.5 1693.4,615.5 C1696.9,615.5 1700.5,620.1 1704.8,621.7 C1709.1,623.3 1715.0,625.1 1719.2,625.3 C1723.3,625.6 1725.7,626.0 1729.9,623.3 C1734.1,620.5 1739.5,616.4 1744.3,608.8 C1749.0,601.2 1756.9,573.5 1758.6,577.8 C1760.3,582.1 1756.1,617.4 1754.3,634.6 C1752.5,651.8 1750.8,666.5 1747.8,681.1 C1744.9,695.7 1741.3,710.4 1736.4,722.4 C1731.5,734.5 1724.4,744.8 1718.4,753.4 C1712.5,762.0 1706.5,765.5 1700.5,774.1 C1694.5,782.7 1687.8,793.2 1682.6,805.1 C1677.4,816.9 1674.3,830.5 1669.3,845.3 C1664.4,860.2 1658.3,878.1 1652.8,894.4 C1647.3,910.7 1641.8,930.7 1636.4,943.0 C1630.9,955.2 1627.0,961.0 1620.2,967.8 C1613.5,974.6 1603.4,979.3 1595.8,983.8 C1588.3,988.2 1582.2,991.0 1574.7,994.6 C1567.2,998.2 1558.0,1002.1 1550.7,1005.5 C1543.3,1008.8 1539.4,1009.9 1530.6,1014.8 C1521.8,1019.6 1506.7,1027.3 1498.0,1034.4 C1489.2,1041.4 1483.4,1052.6 1478.3,1057.1 C1473.1,1061.6 1470.7,1060.2 1467.1,1061.2 C1463.6,1062.3 1461.1,1062.1 1457.1,1063.3 C1453.1,1064.5 1447.4,1065.6 1443.1,1068.5 C1438.8,1071.3 1434.9,1075.6 1431.3,1080.3 C1427.7,1085.1 1424.6,1091.5 1421.6,1096.9 C1418.6,1102.2 1415.6,1108.8 1413.4,1112.4 C1411.1,1115.9 1409.9,1118.1 1408.0,1118.1 C1406.1,1118.1 1404.0,1115.3 1401.9,1112.4 C1399.8,1109.4 1398.7,1103.2 1395.4,1100.5 C1392.2,1097.8 1387.4,1097.0 1382.2,1096.4 C1377.0,1095.7 1371.0,1096.3 1364.2,1096.4 C1357.5,1096.4 1347.6,1096.5 1341.7,1096.9 C1335.7,1097.2 1334.4,1097.0 1328.4,1098.4 C1322.4,1099.9 1313.6,1104.3 1305.8,1105.7 C1298.0,1107.0 1290.0,1106.4 1281.8,1106.7 C1273.6,1106.9 1260.9,1107.1 1256.7,1107.2" fill="none" stroke="#80ff80" stroke-width="1.6" stroke-opacity="1" stroke-linejoin="round"/><path d="M1256.7,1103.6 C1257.7,1100.9 1259.8,1091.2 1262.8,1087.6 C1265.8,1084.0 1270.5,1083.4 1274.6,1081.9 C1278.7,1080.4 1282.3,1080.2 1287.5,1078.8 C1292.7,1077.4 1299.8,1075.9 1305.8,1073.6 C1311.8,1071.4 1317.4,1067.3 1323.4,1065.4 C1329.4,1063.4 1335.6,1062.8 1341.7,1061.8 C1347.7,1060.7 1352.8,1059.9 1359.6,1059.2 C1366.3,1058.4 1376.2,1057.7 1382.2,1057.1 C1388.1,1056.5 1392.0,1056.2 1395.4,1055.6 C1398.8,1055.0 1400.0,1058.2 1402.6,1053.5 C1405.2,1048.8 1407.7,1036.3 1410.9,1027.2 C1414.0,1018.0 1417.4,1006.7 1421.6,998.7 C1425.8,990.8 1431.9,983.9 1436.0,979.6 C1440.0,975.4 1442.0,973.9 1445.6,973.4 C1449.2,973.0 1453.7,976.0 1457.5,977.1 C1461.2,978.1 1464.6,983.8 1468.2,979.6 C1471.8,975.5 1475.4,962.4 1479.0,952.3 C1482.6,942.1 1486.1,929.4 1489.7,918.7 C1493.3,907.9 1497.4,895.4 1500.5,887.7 C1503.6,880.0 1505.4,872.2 1508.4,872.2 C1511.4,872.2 1514.9,883.8 1518.4,887.7 C1521.9,891.6 1525.6,894.2 1529.2,895.4 C1532.7,896.7 1535.9,895.5 1539.9,894.9 C1543.9,894.3 1549.0,891.8 1553.2,891.8 C1557.4,891.8 1560.6,894.3 1565.0,894.9 C1569.4,895.5 1574.6,896.0 1579.3,895.4 C1584.1,894.9 1588.3,894.8 1593.7,891.8 C1599.1,888.8 1605.6,884.9 1611.6,877.4 C1617.6,869.8 1623.7,861.0 1629.5,846.4 C1635.4,831.7 1640.9,812.4 1646.7,789.6 C1652.6,766.8 1659.9,731.9 1664.7,709.5 C1669.5,687.1 1672.3,667.8 1675.4,655.3 C1678.5,642.8 1680.3,639.1 1683.3,634.6 C1686.3,630.1 1689.8,628.6 1693.4,628.4 C1696.9,628.3 1700.5,632.1 1704.8,633.6 C1709.1,635.1 1714.4,637.5 1719.2,637.2 C1723.9,636.9 1728.7,635.9 1733.5,632.0 C1738.3,628.2 1743.7,622.1 1747.8,614.0 C1752.0,605.8 1757.3,579.5 1758.6,583.0 C1759.9,586.4 1757.3,618.3 1755.7,634.6 C1754.2,651.0 1752.3,666.5 1749.3,681.1 C1746.3,695.7 1742.7,710.4 1737.8,722.4 C1732.9,734.5 1725.9,744.8 1719.9,753.4 C1713.9,762.0 1707.9,765.5 1702.0,774.1 C1696.0,782.7 1689.2,793.2 1684.0,805.1 C1678.8,816.9 1675.7,830.5 1670.8,845.3 C1665.8,860.2 1659.8,878.1 1654.3,894.4 C1648.8,910.7 1643.3,930.7 1637.8,943.0 C1632.3,955.2 1628.3,961.0 1621.5,967.8 C1614.6,974.6 1604.5,979.3 1596.8,983.8 C1589.1,988.2 1583.0,991.0 1575.3,994.6 C1567.7,998.2 1558.5,1002.1 1551.0,1005.5 C1543.6,1008.8 1539.5,1009.9 1530.7,1014.8 C1521.8,1019.6 1506.7,1027.3 1498.0,1034.4 C1489.2,1041.4 1483.4,1052.6 1478.3,1057.1 C1473.1,1061.6 1470.7,1060.2 1467.1,1061.2 C1463.6,1062.3 1461.1,1062.1 1457.1,1063.3 C1453.1,1064.5 1447.4,1065.6 1443.1,1068.5 C1438.8,1071.3 1434.9,1075.6 1431.3,1080.3 C1427.7,1085.1 1424.6,1091.5 1421.6,1096.9 C1418.6,1102.2 1415.6,1108.8 1413.4,1112.4 C1411.1,1115.9 1409.9,1118.1 1408.0,1118.1 C1406.1,1118.1 1404.0,1115.3 1401.9,1112.4 C1399.8,1109.4 1398.7,1103.2 1395.4,1100.5 C1392.2,1097.8 1387.4,1097.0 1382.2,1096.4 C1377.0,1095.7 1371.0,1096.3 1364.2,1096.4 C1357.5,1096.4 1347.6,1096.5 1341.7,1096.9 C1335.7,1097.2 1334.4,1097.0 1328.4,1098.4 C1322.4,1099.9 1313.6,1104.3 1305.8,1105.7 C1298.0,1107.0 1290.0,1106.4 1281.8,1106.7 C1273.6,1106.9 1260.9,1107.1 1256.7,1107.2" fill="none" stroke="#80ff80" stroke-width="1.6" stroke-opacity="1" stroke-linejoin="round"/><path d="M1256.7,1103.6 C1257.7,1100.9 1259.8,1091.2 1262.8,1087.6 C1265.8,1084.0 1270.5,1083.4 1274.6,1081.9 C1278.7,1080.4 1282.3,1080.2 1287.5,1078.8 C1292.7,1077.4 1299.8,1075.9 1305.8,1073.6 C1311.8,1071.4 1317.4,1067.3 1323.4,1065.4 C1329.4,1063.4 1335.6,1062.8 1341.7,1061.8 C1347.7,1060.7 1352.8,1059.9 1359.6,1059.2 C1366.3,1058.4 1376.2,1057.7 1382.2,1057.1 C1388.1,1056.5 1392.0,1056.2 1395.4,1055.6 C1398.8,1055.0 1400.0,1057.8 1402.6,1053.5 C1405.2,1049.2 1407.7,1038.0 1410.9,1029.7 C1414.0,1021.5 1417.4,1011.2 1421.6,1003.9 C1425.8,996.6 1431.8,990.0 1436.0,985.8 C1440.1,981.7 1443.1,979.7 1446.7,979.1 C1450.3,978.5 1453.5,981.1 1457.5,982.2 C1461.5,983.3 1466.5,990.4 1470.7,985.8 C1474.9,981.3 1478.8,966.0 1482.6,954.8 C1486.3,943.7 1490.0,929.0 1493.3,918.7 C1496.6,908.4 1499.8,899.4 1502.3,892.9 C1504.8,886.3 1505.7,879.3 1508.4,879.4 C1511.1,879.6 1514.5,889.5 1518.4,893.9 C1522.3,898.3 1527.5,903.7 1531.7,905.8 C1535.9,907.8 1539.9,907.1 1543.5,906.3 C1547.1,905.5 1549.6,901.3 1553.2,901.1 C1556.8,901.0 1560.6,904.5 1565.0,905.3 C1569.4,906.0 1574.6,906.3 1579.3,905.8 C1584.1,905.3 1588.3,905.2 1593.7,902.2 C1599.1,899.1 1605.6,895.3 1611.6,887.7 C1617.6,880.1 1623.7,871.3 1629.5,856.7 C1635.4,842.1 1640.9,822.3 1646.7,799.9 C1652.6,777.5 1659.9,744.4 1664.7,722.4 C1669.5,700.5 1672.3,680.7 1675.4,668.2 C1678.5,655.7 1680.3,651.8 1683.3,647.5 C1686.3,643.2 1689.8,642.5 1693.4,642.4 C1696.9,642.3 1700.5,645.7 1704.8,647.0 C1709.1,648.3 1714.4,650.6 1719.2,650.1 C1723.9,649.6 1728.7,648.2 1733.5,643.9 C1738.3,639.6 1743.7,633.6 1747.8,624.3 C1752.0,615.0 1757.0,586.2 1758.6,588.1 C1760.2,590.1 1758.5,620.4 1757.2,636.2 C1755.9,651.9 1753.7,668.0 1750.7,682.7 C1747.7,697.3 1744.1,711.9 1739.2,724.0 C1734.3,736.0 1727.3,746.4 1721.3,755.0 C1715.3,763.6 1709.4,767.0 1703.4,775.6 C1697.4,784.2 1690.7,794.7 1685.5,806.6 C1680.3,818.5 1677.2,832.0 1672.2,846.9 C1667.2,861.8 1661.2,879.7 1655.7,896.0 C1650.2,912.2 1644.7,932.3 1639.2,944.5 C1633.7,956.7 1629.7,962.5 1622.7,969.3 C1615.8,976.1 1605.5,980.8 1597.7,985.3 C1589.9,989.8 1583.7,992.5 1576.0,996.2 C1568.3,999.8 1558.9,1003.7 1551.3,1007.0 C1543.8,1010.4 1539.6,1011.5 1530.7,1016.3 C1521.8,1021.1 1506.7,1028.9 1498.0,1035.9 C1489.2,1043.0 1483.4,1054.2 1478.3,1058.7 C1473.1,1063.1 1470.7,1061.8 1467.1,1062.8 C1463.6,1063.8 1461.1,1063.6 1457.1,1064.9 C1453.1,1066.1 1447.4,1067.2 1443.1,1070.0 C1438.8,1072.9 1434.9,1077.2 1431.3,1081.9 C1427.7,1086.6 1424.6,1093.1 1421.6,1098.4 C1418.6,1103.8 1415.6,1110.4 1413.4,1113.9 C1411.1,1117.4 1409.9,1119.6 1408.0,1119.6 C1406.1,1119.6 1404.0,1116.8 1401.9,1113.9 C1399.8,1111.0 1398.7,1104.7 1395.4,1102.0 C1392.2,1099.4 1387.4,1098.6 1382.2,1097.9 C1377.0,1097.2 1371.0,1097.8 1364.2,1097.9 C1357.5,1098.0 1347.6,1098.1 1341.7,1098.4 C1335.7,1098.8 1334.4,1098.5 1328.4,1100.0 C1322.4,1101.4 1313.6,1105.8 1305.8,1107.2 C1298.0,1108.6 1290.0,1108.0 1281.8,1108.2 C1273.6,1108.5 1260.9,1108.7 1256.7,1108.8" fill="none" stroke="#33ff33" stroke-width="1.6" stroke-opacity="1" stroke-linejoin="round"/><path d="M1266.0,1076.7 C1269.6,1076.4 1278.0,1076.6 1287.5,1074.7 C1297.1,1072.8 1314.4,1067.5 1323.4,1065.4 C1332.4,1063.2 1335.6,1062.8 1341.7,1061.8 C1347.7,1060.7 1352.8,1059.9 1359.6,1059.2 C1366.3,1058.4 1376.2,1057.7 1382.2,1057.1 C1388.1,1056.5 1390.2,1055.8 1395.4,1055.6 C1400.6,1055.3 1409.0,1057.3 1413.4,1055.6 C1417.7,1053.8 1418.6,1049.1 1421.6,1045.2 C1424.6,1041.4 1427.7,1035.0 1431.3,1032.3 C1434.9,1029.6 1439.4,1030.4 1443.1,1029.2 C1446.9,1028.0 1449.9,1026.7 1453.9,1025.1 C1457.9,1023.4 1463.0,1023.4 1467.1,1019.4 C1471.3,1015.4 1476.0,1006.1 1479.0,1001.3 C1482.0,996.6 1482.7,993.6 1485.1,991.0 C1487.5,988.4 1487.3,988.8 1493.3,985.8 C1499.3,982.8 1513.3,977.5 1520.9,972.9 C1528.5,968.4 1534.7,962.3 1538.8,958.5 C1543.0,954.6 1542.2,951.3 1546.0,949.7 C1549.8,948.0 1556.6,949.2 1561.4,948.6 C1566.2,948.0 1569.5,947.4 1574.7,946.1 C1579.9,944.7 1586.6,943.1 1592.6,940.4 C1598.6,937.6 1604.5,935.5 1610.5,929.5 C1616.6,923.6 1622.8,914.8 1628.8,904.7 C1634.9,894.7 1640.8,881.2 1646.7,869.1 C1652.7,857.1 1659.9,841.2 1664.7,832.4 C1669.5,823.7 1671.7,820.4 1675.4,816.4 C1679.1,812.5 1681.6,812.8 1686.9,808.7 C1692.2,804.5 1700.6,799.4 1707.0,791.6 C1713.3,783.9 1718.9,775.5 1724.9,762.2 C1730.9,748.9 1738.4,726.5 1742.8,712.1 C1747.2,697.7 1748.8,691.7 1751.4,675.9 C1754.1,660.2 1758.8,615.0 1758.6,617.6 C1758.4,620.2 1753.7,668.1 1750.0,691.4 C1746.3,714.8 1741.6,734.6 1736.4,757.5 C1731.1,780.5 1724.4,808.4 1718.4,829.3 C1712.5,850.3 1706.5,866.4 1700.5,883.1 C1694.5,899.8 1688.6,916.4 1682.6,929.5 C1676.6,942.7 1670.6,952.4 1664.7,962.1 C1658.7,971.7 1652.7,979.6 1646.7,987.4 C1640.8,995.1 1634.9,1003.2 1628.8,1008.6 C1622.8,1013.9 1619.6,1015.2 1610.5,1019.4 C1601.5,1023.6 1586.6,1029.4 1574.7,1033.9 C1562.7,1038.3 1550.8,1042.0 1538.8,1046.3 C1526.9,1050.5 1514.9,1055.3 1503.0,1059.2 C1491.0,1063.0 1477.1,1066.4 1467.1,1069.5 C1457.2,1072.6 1449.1,1076.0 1443.1,1077.8 C1437.1,1079.6 1436.2,1078.7 1431.3,1080.3 C1426.3,1082.0 1418.3,1086.4 1413.4,1087.6 C1408.5,1088.8 1404.9,1087.8 1401.9,1087.6 C1398.9,1087.3 1402.5,1086.6 1395.4,1086.0 C1388.4,1085.4 1370.3,1083.7 1359.6,1084.0 C1348.8,1084.2 1339.9,1085.2 1330.9,1087.6 C1321.9,1090.0 1314.0,1096.0 1305.8,1098.4 C1297.6,1100.8 1290.0,1101.2 1281.8,1102.0 C1273.6,1102.9 1260.9,1103.3 1256.7,1103.6" fill="none" stroke="#8c8cff" stroke-width="1.4" stroke-opacity="1" stroke-linejoin="round"/><path d="M1256.7,1103.6 C1257.7,1100.9 1259.8,1091.2 1262.8,1087.6 C1265.8,1084.0 1270.5,1083.4 1274.6,1081.9 C1278.7,1080.4 1282.3,1080.2 1287.5,1078.8 C1292.7,1077.4 1299.8,1075.9 1305.8,1073.6 C1311.8,1071.4 1317.4,1067.3 1323.4,1065.4 C1329.4,1063.4 1335.6,1062.8 1341.7,1061.8 C1347.7,1060.7 1352.8,1059.9 1359.6,1059.2 C1366.3,1058.4 1376.2,1057.7 1382.2,1057.1 C1388.1,1056.5 1390.2,1055.5 1395.4,1055.6 C1400.6,1055.6 1409.0,1058.5 1413.4,1057.2 C1417.7,1055.9 1418.6,1051.4 1421.6,1047.9 C1424.6,1044.4 1427.7,1038.4 1431.3,1036.1 C1434.9,1033.9 1439.4,1035.2 1443.1,1034.5 C1446.9,1033.7 1449.9,1032.8 1453.9,1031.7 C1457.9,1030.5 1463.0,1031.2 1467.1,1027.6 C1471.3,1024.0 1476.0,1014.7 1479.0,1010.1 C1482.0,1005.5 1482.7,1002.4 1485.1,999.8 C1487.5,997.2 1487.3,997.6 1493.3,994.6 C1499.3,991.6 1513.3,986.3 1520.9,981.7 C1528.5,977.1 1534.7,971.1 1538.8,967.2 C1543.0,963.4 1542.2,960.1 1546.0,958.5 C1549.8,956.8 1556.6,958.0 1561.4,957.4 C1566.2,956.8 1569.5,956.2 1574.7,954.8 C1579.9,953.5 1586.6,951.9 1592.6,949.2 C1598.6,946.4 1604.5,944.3 1610.5,938.3 C1616.6,932.4 1622.8,923.6 1628.8,913.5 C1634.9,903.5 1640.8,889.9 1646.7,877.9 C1652.7,865.8 1659.9,850.0 1664.7,841.2 C1669.5,832.4 1671.7,829.2 1675.4,825.2 C1679.1,821.2 1681.6,821.6 1686.9,817.5 C1692.2,813.3 1700.6,808.2 1707.0,800.4 C1713.3,792.7 1718.9,784.2 1724.9,771.0 C1730.9,757.7 1738.4,735.3 1742.8,720.9 C1747.2,706.5 1748.8,700.0 1751.4,684.7 C1754.1,669.5 1759.2,628.3 1758.6,629.5 C1758.0,630.6 1751.9,670.1 1747.8,691.4 C1743.8,712.8 1739.5,734.6 1734.2,757.5 C1729.0,780.5 1722.3,808.4 1716.3,829.3 C1710.3,850.3 1704.3,866.4 1698.4,883.1 C1692.4,899.8 1686.4,916.4 1680.4,929.5 C1674.5,942.7 1668.5,952.4 1662.5,962.1 C1656.5,971.7 1650.6,979.6 1644.6,987.4 C1638.6,995.1 1632.7,1003.2 1626.8,1008.6 C1620.8,1013.9 1617.7,1015.2 1608.8,1019.4 C1600.0,1023.6 1585.4,1029.4 1573.7,1033.9 C1562.0,1038.3 1550.4,1042.0 1538.6,1046.3 C1526.8,1050.5 1514.9,1055.3 1503.0,1059.2 C1491.1,1063.0 1477.1,1066.4 1467.1,1069.5 C1457.2,1072.6 1449.1,1076.0 1443.1,1077.8 C1437.1,1079.6 1436.2,1078.7 1431.3,1080.3 C1426.3,1082.0 1418.3,1086.4 1413.4,1087.6 C1408.5,1088.8 1404.9,1087.8 1401.9,1087.6 C1398.9,1087.3 1402.5,1086.6 1395.4,1086.0 C1388.4,1085.4 1370.3,1083.7 1359.6,1084.0 C1348.8,1084.2 1339.9,1085.2 1330.9,1087.6 C1321.9,1090.0 1314.0,1096.0 1305.8,1098.4 C1297.6,1100.8 1290.0,1101.2 1281.8,1102.0 C1273.6,1102.9 1260.9,1103.3 1256.7,1103.6" fill="none" stroke="#8c8cff" stroke-width="1.4" stroke-opacity="1" stroke-linejoin="round"/><path d="M1256.7,1103.6 C1257.7,1100.9 1259.8,1091.2 1262.8,1087.6 C1265.8,1084.0 1270.5,1083.4 1274.6,1081.9 C1278.7,1080.4 1282.3,1080.2 1287.5,1078.8 C1292.7,1077.4 1299.8,1075.9 1305.8,1073.6 C1311.8,1071.4 1317.4,1067.3 1323.4,1065.4 C1329.4,1063.4 1335.6,1062.8 1341.7,1061.8 C1347.7,1060.7 1352.8,1059.9 1359.6,1059.2 C1366.3,1058.4 1376.2,1057.7 1382.2,1057.1 C1388.1,1056.5 1390.2,1055.4 1395.4,1055.6 C1400.6,1055.7 1409.0,1059.2 1413.4,1058.1 C1417.7,1057.1 1418.6,1052.7 1421.6,1049.4 C1424.6,1046.1 1427.7,1040.4 1431.3,1038.4 C1434.9,1036.4 1439.4,1038.1 1443.1,1037.6 C1446.9,1037.1 1449.9,1036.4 1453.9,1035.5 C1457.9,1034.7 1463.0,1035.8 1467.1,1032.4 C1471.3,1029.1 1476.0,1019.9 1479.0,1015.3 C1482.0,1010.7 1482.7,1007.5 1485.1,1004.9 C1487.5,1002.4 1487.3,1002.8 1493.3,999.8 C1499.3,996.8 1513.3,991.4 1520.9,986.9 C1528.5,982.3 1534.7,976.3 1538.8,972.4 C1543.0,968.5 1542.2,965.3 1546.0,963.6 C1549.8,962.0 1556.6,963.2 1561.4,962.6 C1566.2,962.0 1569.5,961.4 1574.7,960.0 C1579.9,958.6 1586.6,957.1 1592.6,954.3 C1598.6,951.6 1604.5,949.4 1610.5,943.5 C1616.6,937.5 1622.8,928.8 1628.8,918.7 C1634.9,908.6 1640.8,895.1 1646.7,883.1 C1652.7,871.0 1659.9,855.2 1664.7,846.4 C1669.5,837.6 1671.7,834.3 1675.4,830.4 C1679.1,826.4 1681.6,826.8 1686.9,822.6 C1692.2,818.5 1700.6,813.3 1707.0,805.6 C1713.3,797.8 1718.9,789.4 1724.9,776.1 C1730.9,762.9 1738.4,740.4 1742.8,726.0 C1747.2,711.7 1748.8,704.3 1751.4,689.9 C1754.1,675.5 1758.6,639.2 1758.6,639.8 C1758.6,640.4 1754.9,673.5 1751.4,693.5 C1748.0,713.5 1743.1,736.6 1737.8,759.6 C1732.5,782.6 1725.9,810.5 1719.9,831.4 C1713.9,852.3 1707.9,868.4 1702.0,885.1 C1696.0,901.8 1690.0,918.4 1684.0,931.6 C1678.1,944.8 1672.1,954.5 1666.1,964.1 C1660.1,973.8 1654.2,981.7 1648.2,989.4 C1642.2,997.2 1636.3,1005.3 1630.2,1010.6 C1624.1,1016.0 1620.8,1017.3 1611.7,1021.5 C1602.5,1025.7 1587.5,1031.5 1575.3,1035.9 C1563.2,1040.4 1551.1,1044.1 1539.0,1048.3 C1527.0,1052.5 1515.0,1057.4 1503.0,1061.1 C1491.0,1064.8 1477.1,1067.6 1467.1,1070.4 C1457.2,1073.2 1449.1,1076.3 1443.1,1078.0 C1437.1,1079.6 1436.2,1078.7 1431.3,1080.3 C1426.3,1081.9 1418.3,1086.4 1413.4,1087.6 C1408.5,1088.8 1404.9,1087.8 1401.9,1087.6 C1398.9,1087.3 1402.5,1086.6 1395.4,1086.0 C1388.4,1085.4 1370.3,1083.7 1359.6,1084.0 C1348.8,1084.2 1339.9,1085.2 1330.9,1087.6 C1321.9,1090.0 1314.0,1096.0 1305.8,1098.4 C1297.6,1100.8 1290.0,1101.2 1281.8,1102.0 C1273.6,1102.9 1260.9,1103.3 1256.7,1103.6" fill="none" stroke="#3333ff" stroke-width="1.4" stroke-opacity="1" stroke-linejoin="round"/><path d="M1266.0,1074.7 C1269.6,1074.5 1278.0,1075.2 1287.5,1073.6 C1297.1,1072.1 1314.4,1067.3 1323.4,1065.4 C1332.4,1063.4 1335.6,1062.8 1341.7,1061.8 C1347.7,1060.7 1352.8,1059.9 1359.6,1059.2 C1366.3,1058.4 1376.2,1057.7 1382.2,1057.1 C1388.1,1056.5 1389.6,1055.9 1395.4,1055.6 C1401.2,1055.2 1412.0,1055.5 1416.9,1055.0 C1421.9,1054.6 1421.6,1055.7 1425.2,1053.0 C1428.8,1050.2 1431.5,1043.0 1438.5,1038.5 C1445.5,1034.0 1458.0,1030.9 1467.1,1026.1 C1476.3,1021.3 1484.3,1015.1 1493.3,1009.6 C1502.3,1004.1 1512.1,998.1 1520.9,993.1 C1529.7,988.1 1537.0,982.5 1546.0,979.6 C1555.0,976.8 1563.9,979.5 1574.7,976.0 C1585.4,972.5 1601.5,964.6 1610.5,958.5 C1619.6,952.3 1622.8,948.3 1628.8,939.3 C1634.9,930.4 1640.8,914.1 1646.7,904.7 C1652.7,895.4 1658.7,889.3 1664.7,883.1 C1670.6,876.8 1676.6,873.0 1682.6,867.0 C1688.6,861.1 1694.5,856.7 1700.5,847.4 C1706.5,838.1 1712.5,826.2 1718.4,811.3 C1724.4,796.3 1731.5,774.1 1736.4,757.5 C1741.3,741.0 1744.1,727.7 1747.8,712.1 C1751.5,696.5 1758.6,658.9 1758.6,664.1 C1758.6,669.2 1751.5,720.4 1747.8,743.1 C1744.1,765.7 1741.3,778.4 1736.4,799.9 C1731.5,821.4 1724.4,852.4 1718.4,872.2 C1712.5,892.0 1706.5,905.8 1700.5,918.7 C1694.5,931.6 1688.6,940.0 1682.6,949.7 C1676.6,959.3 1670.6,968.4 1664.7,976.5 C1658.7,984.7 1652.7,992.0 1646.7,998.7 C1640.8,1005.5 1634.9,1012.4 1628.8,1016.8 C1622.8,1021.2 1619.6,1021.6 1610.5,1025.1 C1601.5,1028.5 1586.6,1033.6 1574.7,1037.5 C1562.7,1041.4 1550.8,1044.5 1538.8,1048.3 C1526.9,1052.1 1514.9,1056.7 1503.0,1060.2 C1491.0,1063.7 1479.1,1066.8 1467.1,1069.5 C1455.2,1072.2 1440.3,1074.7 1431.3,1076.2 C1422.3,1077.8 1419.3,1078.2 1413.4,1078.8 C1407.4,1079.4 1404.4,1079.1 1395.4,1079.8 C1386.5,1080.5 1370.3,1081.9 1359.6,1082.9 C1348.8,1084.0 1339.9,1084.1 1330.9,1086.0 C1321.9,1087.9 1314.0,1092.1 1305.8,1094.3 C1297.6,1096.5 1290.0,1098.3 1281.8,1099.5 C1273.6,1100.7 1260.9,1101.2 1256.7,1101.5" fill="none" stroke="#9a9a9a" stroke-width="1.4" stroke-opacity="1" stroke-linejoin="round"/><path d="M1256.7,1103.6 C1257.7,1100.9 1259.8,1091.2 1262.8,1087.6 C1265.8,1084.0 1270.5,1083.4 1274.6,1081.9 C1278.7,1080.4 1282.3,1080.2 1287.5,1078.8 C1292.7,1077.4 1299.8,1075.9 1305.8,1073.6 C1311.8,1071.4 1317.4,1067.3 1323.4,1065.4 C1329.4,1063.4 1335.6,1062.8 1341.7,1061.8 C1347.7,1060.7 1352.8,1059.9 1359.6,1059.2 C1366.3,1058.4 1376.2,1057.7 1382.2,1057.1 C1388.1,1056.5 1389.6,1055.6 1395.4,1055.6 C1401.2,1055.5 1412.0,1056.8 1416.9,1056.9 C1421.9,1056.9 1421.6,1058.1 1425.2,1055.7 C1428.8,1053.3 1431.5,1046.4 1438.5,1042.7 C1445.5,1038.9 1458.0,1037.6 1467.1,1033.4 C1476.3,1029.1 1484.3,1022.8 1493.3,1017.3 C1502.3,1011.9 1512.1,1005.8 1520.9,1000.8 C1529.7,995.8 1537.0,990.2 1546.0,987.4 C1555.0,984.5 1563.9,987.3 1574.7,983.8 C1585.4,980.2 1601.5,972.3 1610.5,966.2 C1619.6,960.1 1622.8,956.0 1628.8,947.1 C1634.9,938.1 1640.8,921.9 1646.7,912.5 C1652.7,903.1 1658.7,897.1 1664.7,890.8 C1670.6,884.5 1676.6,880.7 1682.6,874.8 C1688.6,868.8 1694.5,864.5 1700.5,855.2 C1706.5,845.9 1712.5,834.0 1718.4,819.0 C1724.4,804.0 1731.5,781.8 1736.4,765.3 C1741.3,748.8 1744.1,735.6 1747.8,719.8 C1751.5,704.1 1758.0,666.5 1758.6,670.8 C1759.2,675.1 1754.5,723.7 1751.4,745.7 C1748.3,767.6 1744.9,781.0 1740.0,802.5 C1735.1,824.0 1728.0,855.0 1722.0,874.8 C1716.1,894.6 1710.1,908.4 1704.1,921.3 C1698.1,934.2 1692.2,942.6 1686.2,952.3 C1680.2,961.9 1674.2,970.9 1668.3,979.1 C1662.3,987.3 1656.3,994.6 1650.3,1001.3 C1644.3,1008.0 1638.4,1015.0 1632.3,1019.4 C1626.1,1023.8 1622.7,1024.2 1613.4,1027.7 C1604.0,1031.1 1588.7,1036.2 1576.3,1040.1 C1564.0,1043.9 1551.5,1047.1 1539.3,1050.9 C1527.1,1054.7 1515.0,1059.3 1503.0,1062.6 C1491.0,1065.9 1479.1,1068.4 1467.1,1070.6 C1455.2,1072.9 1440.3,1074.9 1431.3,1076.2 C1422.3,1077.6 1419.3,1078.2 1413.4,1078.8 C1407.4,1079.4 1404.4,1079.1 1395.4,1079.8 C1386.5,1080.5 1370.3,1081.9 1359.6,1082.9 C1348.8,1084.0 1339.9,1084.1 1330.9,1086.0 C1321.9,1087.9 1314.0,1092.1 1305.8,1094.3 C1297.6,1096.5 1290.0,1098.3 1281.8,1099.5 C1273.6,1100.7 1260.9,1101.2 1256.7,1101.5" fill="none" stroke="#333333" stroke-width="1.4" stroke-opacity="1" stroke-linejoin="round"/></g>
<rect x="1185.0" y="521.0" width="645.3" height="645.6" fill="none" stroke="#3a3a3a" stroke-width="2.4"/>
<path d="M1185.0,1166.6V1174.6 M1220.8,1166.6V1170.6 M1256.7,1166.6V1174.6 M1292.5,1166.6V1170.6 M1328.4,1166.6V1174.6 M1364.2,1166.6V1170.6 M1400.1,1166.6V1174.6 M1436.0,1166.6V1170.6 M1471.8,1166.6V1174.6 M1507.6,1166.6V1170.6 M1543.5,1166.6V1174.6 M1579.3,1166.6V1170.6 M1615.2,1166.6V1174.6 M1651.0,1166.6V1170.6 M1686.9,1166.6V1174.6 M1722.8,1166.6V1170.6 M1758.6,1166.6V1174.6 M1794.5,1166.6V1170.6 M1830.3,1166.6V1174.6 M1185.0,1166.6H1177.0 M1185.0,1140.8H1181.0 M1185.0,1115.0H1177.0 M1185.0,1089.1H1181.0 M1185.0,1063.3H1177.0 M1185.0,1037.5H1181.0 M1185.0,1011.7H1177.0 M1185.0,985.8H1181.0 M1185.0,960.0H1177.0 M1185.0,934.2H1181.0 M1185.0,908.4H1177.0 M1185.0,882.5H1181.0 M1185.0,856.7H1177.0 M1185.0,830.9H1181.0 M1185.0,805.1H1177.0 M1185.0,779.2H1181.0 M1185.0,753.4H1177.0 M1185.0,727.6H1181.0 M1185.0,701.8H1177.0 M1185.0,675.9H1181.0 M1185.0,650.1H1177.0 M1185.0,624.3H1181.0 M1185.0,598.5H1177.0 M1185.0,572.6H1181.0 M1185.0,546.8H1177.0 M1185.0,521.0H1181.0" stroke="#333" stroke-width="2.2" fill="none"/>
<text transform="translate(1172.6,1203.6) scale(1,1.1)" font-family="'Liberation Serif','Times New Roman',serif" font-size="27.5" text-anchor="start" fill="#111">0.2</text>
<text transform="translate(1168.8,1203.6) scale(1.15,1.1)" font-family="'Liberation Serif','Times New Roman',serif" font-size="27.5" text-anchor="end" fill="#111">−</text>
<text transform="translate(1256.7,1203.6) scale(1,1.1)" font-family="'Liberation Serif','Times New Roman',serif" font-size="27.5" text-anchor="middle" fill="#111">0.0</text>
<text transform="translate(1328.4,1203.6) scale(1,1.1)" font-family="'Liberation Serif','Times New Roman',serif" font-size="27.5" text-anchor="middle" fill="#111">0.2</text>
<text transform="translate(1400.1,1203.6) scale(1,1.1)" font-family="'Liberation Serif','Times New Roman',serif" font-size="27.5" text-anchor="middle" fill="#111">0.4</text>
<text transform="translate(1471.8,1203.6) scale(1,1.1)" font-family="'Liberation Serif','Times New Roman',serif" font-size="27.5" text-anchor="middle" fill="#111">0.6</text>
<text transform="translate(1543.5,1203.6) scale(1,1.1)" font-family="'Liberation Serif','Times New Roman',serif" font-size="27.5" text-anchor="middle" fill="#111">0.8</text>
<text transform="translate(1615.2,1203.6) scale(1,1.1)" font-family="'Liberation Serif','Times New Roman',serif" font-size="27.5" text-anchor="middle" fill="#111">1.0</text>
<text transform="translate(1686.9,1203.6) scale(1,1.1)" font-family="'Liberation Serif','Times New Roman',serif" font-size="27.5" text-anchor="middle" fill="#111">1.2</text>
<text transform="translate(1758.6,1203.6) scale(1,1.1)" font-family="'Liberation Serif','Times New Roman',serif" font-size="27.5" text-anchor="middle" fill="#111">1.4</text>
<text transform="translate(1830.3,1203.6) scale(1,1.1)" font-family="'Liberation Serif','Times New Roman',serif" font-size="27.5" text-anchor="middle" fill="#111">1.6</text>
<text transform="translate(1169.0,1175.8) scale(1,1.08)" font-family="'Liberation Serif','Times New Roman',serif" font-size="27.5" text-anchor="end" fill="#111">0.2</text>
<text transform="translate(1131.0,1175.8) scale(1.15,1.08)" font-family="'Liberation Serif','Times New Roman',serif" font-size="27.5" text-anchor="end" fill="#111">−</text>
<text transform="translate(1169.0,1124.2) scale(1,1.08)" font-family="'Liberation Serif','Times New Roman',serif" font-size="27.5" text-anchor="end" fill="#111">0.1</text>
<text transform="translate(1131.0,1124.2) scale(1.15,1.08)" font-family="'Liberation Serif','Times New Roman',serif" font-size="27.5" text-anchor="end" fill="#111">−</text>
<text transform="translate(1169.0,1072.5) scale(1,1.08)" font-family="'Liberation Serif','Times New Roman',serif" font-size="27.5" text-anchor="end" fill="#111">0.0</text>
<text transform="translate(1169.0,1020.9) scale(1,1.08)" font-family="'Liberation Serif','Times New Roman',serif" font-size="27.5" text-anchor="end" fill="#111">0.1</text>
<text transform="translate(1169.0,969.2) scale(1,1.08)" font-family="'Liberation Serif','Times New Roman',serif" font-size="27.5" text-anchor="end" fill="#111">0.2</text>
<text transform="translate(1169.0,917.6) scale(1,1.08)" font-family="'Liberation Serif','Times New Roman',serif" font-size="27.5" text-anchor="end" fill="#111">0.3</text>
<text transform="translate(1169.0,865.9) scale(1,1.08)" font-family="'Liberation Serif','Times New Roman',serif" font-size="27.5" text-anchor="end" fill="#111">0.4</text>
<text transform="translate(1169.0,814.3) scale(1,1.08)" font-family="'Liberation Serif','Times New Roman',serif" font-size="27.5" text-anchor="end" fill="#111">0.5</text>
<text transform="translate(1169.0,762.6) scale(1,1.08)" font-family="'Liberation Serif','Times New Roman',serif" font-size="27.5" text-anchor="end" fill="#111">0.6</text>
<text transform="translate(1169.0,711.0) scale(1,1.08)" font-family="'Liberation Serif','Times New Roman',serif" font-size="27.5" text-anchor="end" fill="#111">0.7</text>
<text transform="translate(1169.0,659.3) scale(1,1.08)" font-family="'Liberation Serif','Times New Roman',serif" font-size="27.5" text-anchor="end" fill="#111">0.8</text>
<text transform="translate(1169.0,607.7) scale(1,1.08)" font-family="'Liberation Serif','Times New Roman',serif" font-size="27.5" text-anchor="end" fill="#111">0.9</text>
<text transform="translate(1169.0,556.0) scale(1,1.08)" font-family="'Liberation Serif','Times New Roman',serif" font-size="27.5" text-anchor="end" fill="#111">1.0</text>
<text x="1507.7" y="1247.6" font-family="'Liberation Serif','Times New Roman',serif" font-size="28" text-anchor="middle" fill="#111"><tspan font-style="italic">E</tspan> vs SCE / V</text>
<text transform="translate(1099.0,829.8) rotate(-90)" font-family="'Liberation Serif','Times New Roman',serif" font-size="29.4" text-anchor="middle" fill="#111"><tspan font-style="italic">j</tspan> / (mA cm<tspan font-size="16" dy="-12">-2</tspan><tspan dy="12">)</tspan></text>
<g><path d="M313.5,1865.6 C314.7,1864.0 317.7,1858.3 320.6,1855.6 C323.6,1852.9 326.6,1851.1 331.4,1849.4 C336.2,1847.7 340.4,1846.8 349.3,1845.2 C358.3,1843.7 373.2,1841.8 385.2,1840.2 C397.1,1838.7 410.4,1837.4 421.0,1836.1 C431.6,1834.8 442.4,1835.7 448.9,1832.3 C455.5,1829.0 456.1,1825.7 460.4,1816.1 C464.7,1806.4 469.4,1787.3 474.8,1774.5 C480.1,1761.6 487.7,1746.2 492.7,1739.1 C497.6,1731.9 500.3,1731.8 504.5,1731.6 C508.7,1731.4 513.7,1735.8 517.8,1737.8 C521.8,1739.8 524.1,1747.9 528.9,1743.6 C533.6,1739.3 540.5,1725.6 546.4,1712.0 C552.3,1698.4 558.7,1680.8 564.3,1662.0 C570.0,1643.3 576.2,1613.3 580.5,1599.6 C584.7,1585.9 587.1,1582.1 589.8,1580.0 C592.5,1578.0 593.7,1580.4 596.6,1587.1 C599.5,1593.8 603.2,1610.0 607.4,1620.4 C611.5,1630.8 616.8,1642.6 621.7,1649.6 C626.6,1656.5 631.4,1660.7 636.7,1662.0 C642.1,1663.4 648.1,1663.4 653.9,1657.9 C659.8,1652.3 665.8,1644.4 671.9,1628.7 C678.0,1613.1 682.7,1586.4 690.5,1563.8 C698.3,1541.2 709.4,1516.6 718.8,1493.0 C728.3,1469.4 740.6,1439.9 747.1,1422.2 C753.6,1404.6 754.3,1395.2 757.9,1387.3 C761.5,1379.4 765.0,1375.8 768.6,1374.8 C772.2,1373.7 775.8,1377.6 779.4,1381.0 C783.0,1384.5 786.6,1392.0 790.1,1395.6 C793.7,1399.2 796.5,1401.8 800.9,1402.7 C805.3,1403.6 814.7,1390.7 816.7,1401.0 C818.6,1411.4 814.5,1447.0 812.4,1464.7 C810.2,1482.4 807.5,1493.0 803.8,1507.2 C800.0,1521.3 795.0,1533.5 789.8,1549.6 C784.5,1565.7 776.9,1589.9 772.2,1603.8 C767.5,1617.6 766.1,1623.2 761.5,1632.9 C756.9,1642.6 753.2,1648.5 744.6,1662.0 C736.0,1675.6 721.4,1698.5 709.9,1714.1 C698.3,1729.7 686.7,1744.7 675.1,1755.7 C663.5,1766.8 652.0,1774.5 640.3,1780.3 C628.7,1786.1 616.9,1786.7 605.2,1790.7 C593.6,1794.7 579.1,1799.8 570.4,1804.4 C561.8,1809.1 557.8,1813.4 553.2,1818.6 C548.6,1823.8 546.4,1831.8 542.8,1835.7 C539.3,1839.5 535.1,1840.7 532.1,1841.9 C529.1,1843.1 527.6,1843.4 524.9,1843.1 C522.2,1842.9 518.8,1840.9 516.0,1840.2 C513.2,1839.6 511.4,1838.2 508.1,1839.4 C504.8,1840.6 500.3,1843.9 496.3,1847.3 C492.2,1850.7 488.5,1853.2 483.7,1859.8 C478.9,1866.4 472.2,1879.9 467.6,1886.9 C462.9,1893.9 459.3,1901.2 455.8,1901.8 C452.2,1902.5 450.1,1895.6 446.1,1891.0 C442.1,1886.4 437.1,1878.4 431.7,1874.4 C426.4,1870.3 421.6,1868.4 413.8,1866.9 C406.1,1865.4 395.9,1865.4 385.2,1865.2 C374.4,1865.0 361.3,1865.6 349.3,1865.6 C337.4,1865.7 319.5,1865.6 313.5,1865.6" fill="none" stroke="#80ff80" stroke-width="1.6" stroke-opacity="1" stroke-linejoin="round"/><path d="M313.5,1865.6 C314.7,1864.0 317.7,1858.3 320.6,1855.6 C323.6,1852.9 326.6,1851.1 331.4,1849.4 C336.2,1847.7 340.4,1846.8 349.3,1845.2 C358.3,1843.7 373.2,1841.8 385.2,1840.2 C397.1,1838.7 410.4,1837.4 421.0,1836.1 C431.6,1834.8 442.4,1835.0 448.9,1832.3 C455.5,1829.7 456.1,1827.8 460.4,1820.3 C464.7,1812.7 469.4,1797.7 474.8,1786.9 C480.1,1776.2 487.7,1762.1 492.7,1755.7 C497.6,1749.3 500.3,1749.0 504.5,1748.6 C508.7,1748.3 513.7,1752.1 517.8,1753.6 C521.8,1755.2 524.1,1762.0 528.9,1757.8 C533.6,1753.6 540.5,1740.5 546.4,1728.7 C552.3,1716.9 559.0,1700.9 564.3,1687.0 C569.7,1673.1 574.8,1654.8 578.7,1645.4 C582.6,1636.0 584.7,1631.1 587.6,1630.4 C590.6,1629.7 593.3,1635.3 596.6,1641.2 C599.9,1647.2 603.2,1658.6 607.4,1666.2 C611.5,1673.8 616.9,1682.5 621.7,1687.0 C626.5,1691.5 630.7,1693.3 636.0,1693.3 C641.4,1693.3 647.2,1695.9 653.9,1687.0 C660.7,1678.1 665.7,1667.6 676.5,1640.0 C687.3,1612.4 707.0,1554.1 718.8,1521.3 C730.6,1488.6 739.3,1461.2 747.1,1443.5 C755.0,1425.8 761.0,1418.7 765.8,1415.2 C770.5,1411.6 770.3,1418.7 775.4,1422.2 C780.6,1425.8 789.7,1435.2 796.6,1436.4 C803.5,1437.6 814.7,1424.6 816.7,1429.3 C818.6,1434.0 810.9,1451.7 808.1,1464.7 C805.2,1477.7 803.2,1493.0 799.5,1507.2 C795.7,1521.3 790.7,1533.5 785.5,1549.6 C780.2,1565.7 772.6,1589.9 767.9,1603.8 C763.2,1617.6 761.8,1623.2 757.2,1632.9 C752.6,1642.6 748.9,1648.5 740.3,1662.0 C731.7,1675.6 717.0,1698.5 705.6,1714.1 C694.1,1729.7 682.6,1744.7 671.4,1755.7 C660.1,1766.8 649.2,1774.5 638.0,1780.3 C626.8,1786.1 615.5,1786.7 604.3,1790.7 C593.0,1794.7 579.0,1799.8 570.4,1804.4 C561.9,1809.1 557.8,1813.4 553.2,1818.6 C548.6,1823.8 546.4,1831.8 542.8,1835.7 C539.3,1839.5 535.1,1840.7 532.1,1841.9 C529.1,1843.1 527.6,1843.4 524.9,1843.1 C522.2,1842.9 518.8,1840.9 516.0,1840.2 C513.2,1839.6 511.4,1838.2 508.1,1839.4 C504.8,1840.6 500.3,1843.9 496.3,1847.3 C492.2,1850.7 488.5,1853.2 483.7,1859.8 C478.9,1866.4 472.2,1879.9 467.6,1886.9 C462.9,1893.9 459.3,1901.2 455.8,1901.8 C452.2,1902.5 450.1,1895.6 446.1,1891.0 C442.1,1886.4 437.1,1878.4 431.7,1874.4 C426.4,1870.3 421.6,1868.4 413.8,1866.9 C406.1,1865.4 395.9,1865.4 385.2,1865.2 C374.4,1865.0 361.3,1865.6 349.3,1865.6 C337.4,1865.7 319.5,1865.6 313.5,1865.6" fill="none" stroke="#80ff80" stroke-width="1.6" stroke-opacity="1" stroke-linejoin="round"/><path d="M313.5,1865.6 C314.7,1864.0 317.7,1858.3 320.6,1855.6 C323.6,1852.9 326.6,1851.1 331.4,1849.4 C336.2,1847.7 340.4,1846.8 349.3,1845.2 C358.3,1843.7 373.2,1841.8 385.2,1840.2 C397.1,1838.7 410.4,1837.4 421.0,1836.1 C431.6,1834.8 442.4,1834.6 448.9,1832.3 C455.5,1830.0 456.1,1829.2 460.4,1822.3 C464.7,1815.5 469.4,1800.8 474.8,1791.1 C480.1,1781.4 487.4,1769.6 492.7,1764.0 C497.9,1758.5 502.1,1758.1 506.3,1757.8 C510.5,1757.5 514.0,1760.7 517.8,1762.0 C521.5,1763.2 524.1,1769.5 528.9,1765.3 C533.6,1761.1 540.5,1747.9 546.4,1737.0 C552.3,1726.0 559.0,1712.0 564.3,1699.5 C569.7,1687.0 575.1,1670.1 578.7,1662.0 C582.3,1654.0 582.9,1651.2 585.9,1651.2 C588.8,1651.2 593.0,1656.8 596.6,1662.0 C600.2,1667.3 603.2,1675.9 607.4,1682.9 C611.5,1689.8 616.9,1699.1 621.7,1703.7 C626.5,1708.3 630.7,1710.3 636.0,1710.3 C641.4,1710.3 645.8,1715.4 653.9,1703.7 C662.1,1692.0 673.1,1670.4 685.1,1640.0 C697.1,1609.6 715.6,1550.5 726.0,1521.3 C736.3,1492.1 741.2,1477.4 747.1,1464.7 C753.0,1452.0 756.7,1447.5 761.5,1445.1 C766.2,1442.8 769.6,1448.0 775.4,1450.6 C781.3,1453.1 789.7,1460.8 796.6,1460.5 C803.5,1460.3 815.3,1448.4 816.7,1449.3 C818.0,1450.2 807.9,1456.1 804.5,1466.0 C801.0,1475.8 799.6,1494.3 795.9,1508.4 C792.1,1522.6 787.1,1534.8 781.9,1550.9 C776.6,1567.0 769.0,1591.1 764.3,1605.0 C759.6,1618.9 758.2,1624.4 753.6,1634.2 C749.0,1643.9 745.3,1649.8 736.7,1663.3 C728.1,1676.8 713.4,1699.7 702.0,1715.3 C690.6,1730.9 679.3,1745.9 668.3,1757.0 C657.3,1768.0 646.9,1775.7 636.1,1781.5 C625.3,1787.4 614.5,1787.9 603.5,1791.9 C592.6,1796.0 578.8,1801.0 570.4,1805.7 C562.1,1810.3 557.8,1814.6 553.2,1819.8 C548.6,1825.0 546.4,1833.0 542.8,1836.9 C539.3,1840.8 535.1,1841.9 532.1,1843.1 C529.1,1844.4 527.6,1844.7 524.9,1844.4 C522.2,1844.1 518.8,1842.1 516.0,1841.5 C513.2,1840.9 511.4,1839.5 508.1,1840.7 C504.8,1841.8 500.3,1845.2 496.3,1848.6 C492.2,1852.0 488.5,1854.5 483.7,1861.0 C478.9,1867.6 472.2,1881.1 467.6,1888.1 C462.9,1895.1 459.3,1902.4 455.8,1903.1 C452.2,1903.8 450.1,1896.9 446.1,1892.3 C442.1,1887.7 437.1,1879.6 431.7,1875.6 C426.4,1871.6 421.6,1869.7 413.8,1868.1 C406.1,1866.6 395.9,1866.7 385.2,1866.5 C374.4,1866.3 361.3,1866.8 349.3,1866.9 C337.4,1866.9 319.5,1866.9 313.5,1866.9" fill="none" stroke="#33ff33" stroke-width="1.6" stroke-opacity="1" stroke-linejoin="round"/><path d="M313.5,1865.6 C314.7,1864.0 317.7,1858.3 320.6,1855.6 C323.6,1852.9 326.6,1851.1 331.4,1849.4 C336.2,1847.7 340.4,1846.8 349.3,1845.2 C358.3,1843.7 373.2,1841.8 385.2,1840.2 C397.1,1838.7 410.4,1837.4 421.0,1836.1 C431.6,1834.8 442.4,1834.3 448.9,1832.3 C455.5,1830.4 456.1,1828.9 460.4,1824.4 C464.7,1820.0 469.4,1811.6 474.8,1805.7 C480.1,1799.8 487.7,1792.7 492.7,1789.0 C497.6,1785.3 500.3,1784.0 504.5,1783.6 C508.7,1783.3 513.7,1786.4 517.8,1786.9 C521.8,1787.5 524.7,1788.7 528.9,1786.9 C533.1,1785.2 538.1,1781.4 542.8,1776.5 C547.6,1771.7 552.4,1765.1 557.2,1757.8 C562.0,1750.5 567.0,1738.7 571.5,1732.8 C576.1,1727.0 580.2,1722.1 584.4,1722.8 C588.6,1723.5 592.8,1733.4 596.6,1737.0 C600.4,1740.6 603.0,1742.5 607.4,1744.5 C611.7,1746.4 615.6,1747.9 622.8,1748.6 C629.9,1749.3 643.4,1752.0 650.4,1748.6 C657.4,1745.3 659.9,1736.8 664.7,1728.7 C669.5,1720.5 674.4,1709.2 679.0,1699.5 C683.6,1689.8 684.3,1682.9 692.3,1670.4 C700.3,1657.9 716.7,1635.3 727.1,1624.6 C737.4,1613.9 748.6,1612.9 754.3,1606.3 C760.0,1599.7 759.1,1590.9 761.5,1585.0 C763.8,1579.1 765.4,1574.1 768.3,1570.9 C771.1,1567.6 775.0,1566.2 778.7,1565.5 C782.3,1564.7 786.0,1565.9 790.1,1566.3 C794.3,1566.7 799.5,1567.7 803.8,1568.0 C808.1,1568.2 814.6,1564.8 815.9,1568.0 C817.3,1571.2 813.5,1581.1 811.6,1587.1 C809.7,1593.1 806.9,1598.5 804.5,1603.8 C802.0,1609.0 801.3,1610.4 796.9,1618.8 C792.6,1627.1 784.2,1643.2 778.3,1653.7 C772.4,1664.3 767.4,1673.0 761.5,1682.0 C755.5,1691.1 748.4,1699.5 742.5,1707.8 C736.5,1716.2 731.6,1724.1 725.6,1732.0 C719.7,1739.9 712.6,1748.2 706.6,1755.3 C700.7,1762.4 695.8,1768.5 689.8,1774.5 C683.8,1780.4 676.2,1786.8 670.8,1791.1 C665.4,1795.4 665.5,1796.7 657.5,1800.3 C649.5,1803.9 634.4,1809.1 622.8,1812.8 C611.2,1816.4 599.6,1818.7 588.0,1821.9 C576.4,1825.2 562.0,1829.5 553.2,1832.3 C544.5,1835.2 541.5,1836.6 535.7,1839.0 C529.9,1841.3 524.4,1844.7 518.5,1846.5 C512.5,1848.2 505.6,1847.7 499.8,1849.4 C494.0,1851.1 488.5,1853.8 483.7,1856.9 C478.9,1860.0 475.2,1864.9 471.2,1868.1 C467.1,1871.3 462.9,1875.3 459.3,1876.0 C455.8,1876.7 453.7,1874.3 449.7,1872.3 C445.7,1870.3 440.1,1865.7 435.3,1864.0 C430.6,1862.2 429.4,1862.1 421.0,1861.9 C412.6,1861.7 397.1,1862.3 385.2,1862.7 C373.2,1863.1 361.3,1863.9 349.3,1864.4 C337.4,1864.9 319.5,1865.4 313.5,1865.6" fill="none" stroke="#8c8cff" stroke-width="1.4" stroke-opacity="1" stroke-linejoin="round"/><path d="M313.5,1865.6 C314.7,1864.0 317.7,1858.3 320.6,1855.6 C323.6,1852.9 326.6,1851.1 331.4,1849.4 C336.2,1847.7 340.4,1846.8 349.3,1845.2 C358.3,1843.7 373.2,1841.8 385.2,1840.2 C397.1,1838.7 410.4,1837.4 421.0,1836.1 C431.6,1834.8 442.4,1833.9 448.9,1832.3 C455.5,1830.7 456.1,1830.2 460.4,1826.5 C464.7,1822.7 469.4,1815.0 474.8,1809.8 C480.1,1804.6 487.4,1798.4 492.7,1795.3 C497.9,1792.1 502.1,1791.5 506.3,1791.1 C510.5,1790.8 514.0,1792.8 517.8,1793.2 C521.5,1793.5 524.7,1794.9 528.9,1793.2 C533.1,1791.5 538.1,1787.3 542.8,1782.8 C547.6,1778.3 553.0,1771.7 557.2,1766.1 C561.4,1760.6 564.5,1753.2 567.9,1749.5 C571.3,1745.7 574.0,1743.0 577.6,1743.6 C581.2,1744.3 584.5,1750.6 589.4,1753.6 C594.4,1756.7 601.8,1760.4 607.4,1762.0 C612.9,1763.5 615.6,1762.7 622.8,1762.8 C629.9,1762.9 643.4,1765.7 650.4,1762.8 C657.4,1759.9 659.9,1753.1 664.7,1745.3 C669.5,1737.5 674.4,1725.9 679.0,1716.2 C683.6,1706.5 684.3,1697.4 692.3,1687.0 C700.3,1676.6 718.5,1663.4 727.1,1653.7 C735.6,1644.0 737.8,1639.8 743.5,1628.7 C749.3,1617.6 755.5,1594.9 761.5,1587.1 C767.4,1579.3 773.4,1583.2 779.4,1582.1 C785.4,1581.1 791.2,1581.6 797.3,1580.9 C803.4,1580.2 813.2,1576.6 815.9,1578.0 C818.7,1579.3 815.3,1584.2 813.8,1588.8 C812.2,1593.4 809.1,1600.2 806.6,1605.4 C804.2,1610.7 803.5,1612.1 799.1,1620.4 C794.7,1628.7 786.4,1644.8 780.5,1655.4 C774.5,1665.9 769.6,1674.7 763.6,1683.7 C757.6,1692.7 750.6,1701.2 744.6,1709.5 C738.6,1717.8 733.7,1725.7 727.8,1733.7 C721.8,1741.6 714.8,1749.9 708.8,1757.0 C702.8,1764.0 698.0,1770.2 691.9,1776.1 C685.9,1782.1 678.0,1788.5 672.6,1792.8 C667.1,1797.1 667.2,1798.3 659.0,1801.9 C650.9,1805.5 635.4,1810.8 623.6,1814.4 C611.8,1818.0 599.8,1820.3 588.1,1823.6 C576.4,1826.8 562.0,1831.1 553.2,1834.0 C544.5,1836.8 541.5,1838.3 535.7,1840.7 C529.9,1843.0 524.4,1846.4 518.5,1848.1 C512.5,1849.9 505.6,1849.3 499.8,1851.1 C494.0,1852.8 488.5,1855.4 483.7,1858.6 C478.9,1861.7 475.2,1866.6 471.2,1869.8 C467.1,1873.0 462.9,1877.0 459.3,1877.7 C455.8,1878.4 453.7,1876.0 449.7,1874.0 C445.7,1871.9 440.1,1867.4 435.3,1865.6 C430.6,1863.9 429.4,1863.8 421.0,1863.5 C412.6,1863.3 397.1,1864.0 385.2,1864.4 C373.2,1864.8 361.3,1865.6 349.3,1866.0 C337.4,1866.5 319.5,1867.1 313.5,1867.3" fill="none" stroke="#3333ff" stroke-width="1.4" stroke-opacity="1" stroke-linejoin="round"/><path d="M313.5,1865.6 C314.7,1864.0 317.7,1858.3 320.6,1855.6 C323.6,1852.9 326.6,1851.1 331.4,1849.4 C336.2,1847.7 340.4,1846.8 349.3,1845.2 C358.3,1843.7 373.2,1841.8 385.2,1840.2 C397.1,1838.7 410.4,1837.4 421.0,1836.1 C431.6,1834.8 442.4,1834.3 448.9,1832.3 C455.5,1830.4 456.1,1828.5 460.4,1824.4 C464.7,1820.3 469.4,1813.0 474.8,1807.8 C480.1,1802.6 487.7,1796.7 492.7,1793.2 C497.6,1789.7 500.3,1787.4 504.5,1786.9 C508.7,1786.5 513.7,1789.6 517.8,1790.3 C521.8,1791.0 524.7,1793.4 528.9,1791.1 C533.1,1788.8 538.2,1782.4 542.8,1776.5 C547.5,1770.6 553.2,1758.8 556.8,1755.7 C560.4,1752.6 561.3,1756.4 564.3,1757.8 C567.4,1759.2 570.3,1762.7 575.1,1764.0 C579.9,1765.4 587.0,1765.6 593.0,1766.1 C599.0,1766.6 605.0,1767.0 610.9,1767.0 C616.9,1767.0 622.3,1767.0 628.9,1766.1 C635.4,1765.3 644.4,1766.8 650.4,1762.0 C656.3,1757.1 659.9,1748.1 664.7,1737.0 C669.5,1725.9 674.3,1709.2 679.0,1695.4 C683.8,1681.5 689.1,1662.9 693.4,1653.7 C697.7,1644.5 700.6,1649.1 704.8,1640.0 C709.1,1630.9 714.6,1609.7 718.8,1599.2 C723.1,1588.6 726.8,1579.8 730.3,1576.7 C733.8,1573.6 736.7,1579.2 740.0,1580.9 C743.2,1582.5 746.4,1586.0 750.0,1586.7 C753.6,1587.4 757.2,1587.0 761.5,1585.0 C765.7,1583.1 770.7,1580.9 775.4,1575.0 C780.2,1569.1 785.1,1558.6 789.8,1549.6 C794.5,1540.7 799.4,1528.4 803.8,1521.3 C808.1,1514.3 814.6,1501.8 815.9,1507.2 C817.3,1512.6 813.5,1539.1 811.6,1553.8 C809.7,1568.5 806.9,1583.9 804.5,1595.4 C802.0,1607.0 801.3,1612.4 796.9,1622.9 C792.6,1633.5 784.2,1648.0 778.3,1658.7 C772.4,1669.4 767.4,1678.0 761.5,1687.0 C755.5,1696.0 748.4,1704.5 742.5,1712.8 C736.5,1721.2 731.6,1729.2 725.6,1737.0 C719.7,1744.8 712.6,1752.5 706.6,1759.5 C700.7,1766.4 695.8,1772.7 689.8,1778.6 C683.8,1784.6 676.2,1791.1 670.8,1795.3 C665.4,1799.4 665.5,1800.3 657.5,1803.6 C649.5,1806.9 634.4,1811.8 622.8,1814.8 C611.2,1817.9 599.6,1819.0 588.0,1821.9 C576.4,1824.8 562.0,1829.5 553.2,1832.3 C544.5,1835.2 541.5,1836.6 535.7,1839.0 C529.9,1841.3 524.4,1844.7 518.5,1846.5 C512.5,1848.2 505.6,1847.7 499.8,1849.4 C494.0,1851.1 488.5,1854.2 483.7,1856.9 C478.9,1859.5 475.2,1863.2 471.2,1865.2 C467.1,1867.2 462.9,1868.8 459.3,1869.0 C455.8,1869.1 453.7,1867.2 449.7,1866.0 C445.7,1864.9 440.1,1862.7 435.3,1861.9 C430.6,1861.0 429.4,1861.0 421.0,1861.0 C412.6,1861.0 397.1,1861.4 385.2,1861.9 C373.2,1862.4 361.3,1863.3 349.3,1864.0 C337.4,1864.6 319.5,1865.4 313.5,1865.6" fill="none" stroke="#ff80ff" stroke-width="1.4" stroke-opacity="1" stroke-linejoin="round"/><path d="M313.5,1865.6 C314.7,1864.0 317.7,1858.3 320.6,1855.6 C323.6,1852.9 326.6,1851.1 331.4,1849.4 C336.2,1847.7 340.4,1846.8 349.3,1845.2 C358.3,1843.7 373.2,1841.8 385.2,1840.2 C397.1,1838.7 410.4,1837.4 421.0,1836.1 C431.6,1834.8 442.4,1833.9 448.9,1832.3 C455.5,1830.7 456.1,1829.9 460.4,1826.5 C464.7,1823.1 469.4,1816.8 474.8,1811.9 C480.1,1807.1 487.7,1800.7 492.7,1797.4 C497.6,1794.0 500.3,1792.3 504.5,1791.9 C508.7,1791.6 513.7,1794.7 517.8,1795.3 C521.8,1795.8 524.7,1797.4 528.9,1795.3 C533.1,1793.2 538.2,1787.6 542.8,1782.8 C547.5,1777.9 553.2,1768.2 556.8,1766.1 C560.4,1764.0 561.3,1768.8 564.3,1770.3 C567.4,1771.8 570.3,1773.9 575.1,1775.3 C579.9,1776.7 587.0,1778.1 593.0,1778.6 C599.0,1779.2 605.0,1778.8 610.9,1778.6 C616.9,1778.5 622.3,1778.5 628.9,1777.8 C635.4,1777.1 644.4,1778.5 650.4,1774.5 C656.3,1770.4 659.9,1763.4 664.7,1753.6 C669.5,1743.9 674.3,1728.7 679.0,1716.2 C683.8,1703.7 688.6,1691.4 693.4,1678.7 C698.1,1666.0 703.5,1650.4 707.7,1640.0 C711.9,1629.6 715.1,1622.3 718.8,1616.3 C722.6,1610.2 726.8,1605.3 730.3,1603.8 C733.8,1602.2 736.3,1605.7 740.0,1607.1 C743.7,1608.5 747.8,1612.2 752.5,1612.1 C757.2,1612.0 763.3,1610.1 768.3,1606.3 C773.3,1602.4 777.9,1597.4 782.6,1589.2 C787.3,1580.9 791.0,1568.0 796.6,1556.7 C802.1,1545.4 813.1,1521.6 815.9,1521.3 C818.8,1521.1 815.3,1542.5 813.8,1555.1 C812.2,1567.6 809.1,1585.2 806.6,1596.7 C804.2,1608.2 803.5,1613.6 799.1,1624.2 C794.7,1634.7 786.4,1649.3 780.5,1660.0 C774.5,1670.7 769.6,1679.3 763.6,1688.3 C757.6,1697.3 750.6,1705.8 744.6,1714.1 C738.6,1722.4 733.7,1730.5 727.8,1738.2 C721.8,1746.0 714.8,1753.8 708.8,1760.7 C702.8,1767.7 698.0,1773.9 691.9,1779.9 C685.9,1785.8 678.0,1792.4 672.6,1796.5 C667.1,1800.7 667.2,1801.6 659.0,1804.8 C650.9,1808.1 635.4,1813.0 623.6,1816.1 C611.8,1819.1 599.8,1820.3 588.1,1823.2 C576.4,1826.1 562.0,1830.7 553.2,1833.6 C544.5,1836.4 541.5,1837.9 535.7,1840.2 C529.9,1842.6 524.4,1846.0 518.5,1847.7 C512.5,1849.5 505.6,1848.9 499.8,1850.6 C494.0,1852.4 488.5,1855.5 483.7,1858.1 C478.9,1860.8 475.2,1864.4 471.2,1866.5 C467.1,1868.5 462.9,1870.1 459.3,1870.2 C455.8,1870.3 453.7,1868.5 449.7,1867.3 C445.7,1866.1 440.1,1864.0 435.3,1863.1 C430.6,1862.3 429.4,1862.3 421.0,1862.3 C412.6,1862.3 397.1,1862.6 385.2,1863.1 C373.2,1863.6 361.3,1864.6 349.3,1865.2 C337.4,1865.8 319.5,1866.6 313.5,1866.9" fill="none" stroke="#ff1aff" stroke-width="1.4" stroke-opacity="1" stroke-linejoin="round"/><path d="M313.5,1865.6 C314.7,1864.0 317.7,1858.3 320.6,1855.6 C323.6,1852.9 326.6,1851.1 331.4,1849.4 C336.2,1847.7 340.4,1846.8 349.3,1845.2 C358.3,1843.7 373.2,1841.8 385.2,1840.2 C397.1,1838.7 410.4,1837.4 421.0,1836.1 C431.6,1834.8 442.4,1833.6 448.9,1832.3 C455.5,1831.1 456.1,1831.3 460.4,1828.6 C464.7,1825.9 469.4,1819.9 474.8,1816.1 C480.1,1812.3 487.7,1808.1 492.7,1805.7 C497.6,1803.3 500.3,1801.9 504.5,1801.5 C508.7,1801.2 513.7,1803.1 517.8,1803.6 C521.8,1804.1 524.7,1806.5 528.9,1804.4 C533.1,1802.3 538.8,1795.1 542.8,1791.1 C546.9,1787.1 549.7,1781.3 553.2,1780.3 C556.8,1779.2 560.1,1783.4 564.3,1784.9 C568.6,1786.3 571.8,1788.3 578.7,1789.0 C585.6,1789.7 597.2,1789.4 605.6,1789.0 C613.9,1788.7 621.4,1788.7 628.9,1786.9 C636.3,1785.2 644.4,1784.2 650.4,1778.6 C656.3,1773.1 659.9,1762.7 664.7,1753.6 C669.5,1744.6 674.4,1733.5 679.0,1724.5 C683.6,1715.5 687.5,1709.9 692.3,1699.5 C697.1,1689.1 701.9,1672.4 707.7,1662.0 C713.5,1651.7 721.1,1641.0 727.1,1637.5 C733.0,1634.0 737.8,1641.3 743.5,1641.2 C749.3,1641.2 755.5,1642.6 761.5,1637.1 C767.4,1631.5 773.4,1619.0 779.4,1607.9 C785.4,1596.8 791.2,1580.9 797.3,1570.5 C803.4,1560.0 813.8,1545.5 815.9,1545.5 C818.1,1545.5 812.4,1560.0 810.2,1570.5 C808.1,1580.9 806.0,1596.1 803.0,1607.9 C800.1,1619.7 796.6,1630.5 792.3,1641.2 C787.9,1652.0 782.3,1662.7 776.9,1672.5 C771.5,1682.2 766.0,1690.7 760.0,1699.5 C754.1,1708.3 747.0,1717.1 741.0,1725.3 C735.1,1733.5 730.2,1741.3 724.2,1748.6 C718.2,1756.0 711.2,1763.2 705.2,1769.5 C699.2,1775.7 694.3,1780.8 688.4,1786.1 C682.4,1791.4 674.9,1797.5 669.6,1801.1 C664.3,1804.7 664.4,1805.0 656.5,1807.8 C648.6,1810.5 633.7,1815.1 622.2,1817.8 C610.8,1820.4 599.4,1820.9 587.9,1823.6 C576.4,1826.2 561.9,1830.8 553.2,1833.6 C544.5,1836.3 541.5,1837.9 535.7,1840.2 C529.9,1842.5 524.4,1845.8 518.5,1847.3 C512.5,1848.8 505.6,1848.0 499.8,1849.4 C494.0,1850.8 488.5,1853.7 483.7,1855.6 C478.9,1857.6 475.2,1859.7 471.2,1861.0 C467.1,1862.4 462.9,1863.4 459.3,1863.5 C455.8,1863.7 453.7,1862.7 449.7,1861.9 C445.7,1861.0 440.1,1859.1 435.3,1858.6 C430.6,1858.0 429.4,1858.3 421.0,1858.6 C412.6,1858.8 397.1,1859.5 385.2,1860.2 C373.2,1860.9 361.3,1862.0 349.3,1862.7 C337.4,1863.5 319.5,1864.4 313.5,1864.8" fill="none" stroke="#9a9a9a" stroke-width="1.4" stroke-opacity="1" stroke-linejoin="round"/><path d="M313.5,1865.6 C314.7,1864.0 317.7,1858.3 320.6,1855.6 C323.6,1852.9 326.6,1851.1 331.4,1849.4 C336.2,1847.7 340.4,1846.8 349.3,1845.2 C358.3,1843.7 373.2,1841.8 385.2,1840.2 C397.1,1838.7 410.4,1837.4 421.0,1836.1 C431.6,1834.8 442.4,1833.6 448.9,1832.3 C455.5,1831.1 456.1,1831.3 460.4,1828.6 C464.7,1825.9 469.4,1819.9 474.8,1816.1 C480.1,1812.3 487.7,1808.1 492.7,1805.7 C497.6,1803.3 500.3,1801.9 504.5,1801.5 C508.7,1801.2 513.7,1803.1 517.8,1803.6 C521.8,1804.1 524.7,1806.5 528.9,1804.4 C533.1,1802.3 538.8,1795.1 542.8,1791.1 C546.9,1787.1 549.7,1781.3 553.2,1780.3 C556.8,1779.2 560.1,1783.4 564.3,1784.9 C568.6,1786.3 571.8,1788.3 578.7,1789.0 C585.6,1789.7 597.2,1789.4 605.6,1789.0 C613.9,1788.7 621.4,1790.1 628.9,1786.9 C636.3,1783.8 644.4,1779.3 650.4,1770.3 C656.3,1761.3 659.9,1745.3 664.7,1732.8 C669.5,1720.3 674.3,1707.1 679.0,1695.4 C683.8,1683.6 688.6,1673.1 693.4,1662.0 C698.1,1650.9 702.1,1638.4 707.7,1628.7 C713.3,1619.1 721.7,1607.6 727.1,1604.2 C732.4,1600.7 735.9,1606.5 740.0,1607.9 C744.0,1609.4 746.7,1613.6 751.4,1612.9 C756.2,1612.2 762.2,1610.8 768.6,1603.8 C775.1,1596.7 782.3,1582.9 790.1,1570.5 C798.0,1558.0 812.4,1528.8 815.9,1528.8 C819.5,1528.8 813.5,1557.3 811.6,1570.5 C809.7,1583.6 807.5,1596.1 804.5,1607.9 C801.5,1619.7 798.1,1630.5 793.7,1641.2 C789.4,1652.0 783.7,1662.7 778.3,1672.5 C772.9,1682.2 767.4,1690.7 761.5,1699.5 C755.5,1708.3 748.4,1717.1 742.5,1725.3 C736.5,1733.5 731.6,1741.3 725.6,1748.6 C719.7,1756.0 712.6,1763.2 706.6,1769.5 C700.7,1775.7 695.8,1780.8 689.8,1786.1 C683.8,1791.4 676.2,1797.5 670.8,1801.1 C665.4,1804.7 665.5,1805.0 657.5,1807.8 C649.5,1810.5 634.4,1815.1 622.8,1817.8 C611.2,1820.4 599.6,1820.9 588.0,1823.6 C576.4,1826.2 562.0,1830.8 553.2,1833.6 C544.5,1836.3 541.5,1837.9 535.7,1840.2 C529.9,1842.5 524.4,1845.8 518.5,1847.3 C512.5,1848.8 505.6,1848.0 499.8,1849.4 C494.0,1850.8 488.5,1853.7 483.7,1855.6 C478.9,1857.6 475.2,1859.7 471.2,1861.0 C467.1,1862.4 462.9,1863.4 459.3,1863.5 C455.8,1863.7 453.7,1862.7 449.7,1861.9 C445.7,1861.0 440.1,1859.1 435.3,1858.6 C430.6,1858.0 429.4,1858.3 421.0,1858.6 C412.6,1858.8 397.1,1859.5 385.2,1860.2 C373.2,1860.9 361.3,1862.0 349.3,1862.7 C337.4,1863.5 319.5,1864.4 313.5,1864.8" fill="none" stroke="#333333" stroke-width="1.4" stroke-opacity="1" stroke-linejoin="round"/></g>
<rect x="241.8" y="1316.5" width="645.1" height="645.3" fill="none" stroke="#3a3a3a" stroke-width="2.4"/>
<path d="M241.8,1961.8V1969.8 M277.6,1961.8V1965.8 M313.5,1961.8V1969.8 M349.3,1961.8V1965.8 M385.2,1961.8V1969.8 M421.0,1961.8V1965.8 M456.8,1961.8V1969.8 M492.7,1961.8V1965.8 M528.5,1961.8V1969.8 M564.3,1961.8V1965.8 M600.2,1961.8V1969.8 M636.0,1961.8V1965.8 M671.9,1961.8V1969.8 M707.7,1961.8V1965.8 M743.5,1961.8V1969.8 M779.4,1961.8V1965.8 M815.2,1961.8V1969.8 M851.1,1961.8V1965.8 M886.9,1961.8V1969.8 M241.8,1961.8H233.8 M241.8,1941.0H237.8 M241.8,1920.2H233.8 M241.8,1899.4H237.8 M241.8,1878.5H233.8 M241.8,1857.7H237.8 M241.8,1836.9H233.8 M241.8,1816.1H237.8 M241.8,1795.3H233.8 M241.8,1774.5H237.8 M241.8,1753.6H233.8 M241.8,1732.8H237.8 M241.8,1712.0H233.8 M241.8,1691.2H237.8 M241.8,1670.4H233.8 M241.8,1649.6H237.8 M241.8,1628.7H233.8 M241.8,1607.9H237.8 M241.8,1587.1H233.8 M241.8,1566.3H237.8 M241.8,1545.5H233.8 M241.8,1524.7H237.8 M241.8,1503.8H233.8 M241.8,1483.0H237.8 M241.8,1462.2H233.8 M241.8,1441.4H237.8 M241.8,1420.6H233.8 M241.8,1399.8H237.8 M241.8,1378.9H233.8 M241.8,1358.1H237.8 M241.8,1337.3H233.8 M241.8,1316.5H237.8" stroke="#333" stroke-width="2.2" fill="none"/>
<text transform="translate(229.4,1998.8) scale(1,1.1)" font-family="'Liberation Serif','Times New Roman',serif" font-size="27.5" text-anchor="start" fill="#111">0.2</text>
<text transform="translate(225.6,1998.8) scale(1.15,1.1)" font-family="'Liberation Serif','Times New Roman',serif" font-size="27.5" text-anchor="end" fill="#111">−</text>
<text transform="translate(313.5,1998.8) scale(1,1.1)" font-family="'Liberation Serif','Times New Roman',serif" font-size="27.5" text-anchor="middle" fill="#111">0.0</text>
<text transform="translate(385.2,1998.8) scale(1,1.1)" font-family="'Liberation Serif','Times New Roman',serif" font-size="27.5" text-anchor="middle" fill="#111">0.2</text>
<text transform="translate(456.8,1998.8) scale(1,1.1)" font-family="'Liberation Serif','Times New Roman',serif" font-size="27.5" text-anchor="middle" fill="#111">0.4</text>
<text transform="translate(528.5,1998.8) scale(1,1.1)" font-family="'Liberation Serif','Times New Roman',serif" font-size="27.5" text-anchor="middle" fill="#111">0.6</text>
<text transform="translate(600.2,1998.8) scale(1,1.1)" font-family="'Liberation Serif','Times New Roman',serif" font-size="27.5" text-anchor="middle" fill="#111">0.8</text>
<text transform="translate(671.9,1998.8) scale(1,1.1)" font-family="'Liberation Serif','Times New Roman',serif" font-size="27.5" text-anchor="middle" fill="#111">1.0</text>
<text transform="translate(743.5,1998.8) scale(1,1.1)" font-family="'Liberation Serif','Times New Roman',serif" font-size="27.5" text-anchor="middle" fill="#111">1.2</text>
<text transform="translate(815.2,1998.8) scale(1,1.1)" font-family="'Liberation Serif','Times New Roman',serif" font-size="27.5" text-anchor="middle" fill="#111">1.4</text>
<text transform="translate(886.9,1998.8) scale(1,1.1)" font-family="'Liberation Serif','Times New Roman',serif" font-size="27.5" text-anchor="middle" fill="#111">1.6</text>
<text transform="translate(225.8,1971.0) scale(1,1.08)" font-family="'Liberation Serif','Times New Roman',serif" font-size="27.5" text-anchor="end" fill="#111">0.3</text>
<text transform="translate(187.8,1971.0) scale(1.15,1.08)" font-family="'Liberation Serif','Times New Roman',serif" font-size="27.5" text-anchor="end" fill="#111">−</text>
<text transform="translate(225.8,1929.4) scale(1,1.08)" font-family="'Liberation Serif','Times New Roman',serif" font-size="27.5" text-anchor="end" fill="#111">0.2</text>
<text transform="translate(187.8,1929.4) scale(1.15,1.08)" font-family="'Liberation Serif','Times New Roman',serif" font-size="27.5" text-anchor="end" fill="#111">−</text>
<text transform="translate(225.8,1887.7) scale(1,1.08)" font-family="'Liberation Serif','Times New Roman',serif" font-size="27.5" text-anchor="end" fill="#111">0.1</text>
<text transform="translate(187.8,1887.7) scale(1.15,1.08)" font-family="'Liberation Serif','Times New Roman',serif" font-size="27.5" text-anchor="end" fill="#111">−</text>
<text transform="translate(225.8,1846.1) scale(1,1.08)" font-family="'Liberation Serif','Times New Roman',serif" font-size="27.5" text-anchor="end" fill="#111">0.0</text>
<text transform="translate(225.8,1804.5) scale(1,1.08)" font-family="'Liberation Serif','Times New Roman',serif" font-size="27.5" text-anchor="end" fill="#111">0.1</text>
<text transform="translate(225.8,1762.8) scale(1,1.08)" font-family="'Liberation Serif','Times New Roman',serif" font-size="27.5" text-anchor="end" fill="#111">0.2</text>
<text transform="translate(225.8,1721.2) scale(1,1.08)" font-family="'Liberation Serif','Times New Roman',serif" font-size="27.5" text-anchor="end" fill="#111">0.3</text>
<text transform="translate(225.8,1679.6) scale(1,1.08)" font-family="'Liberation Serif','Times New Roman',serif" font-size="27.5" text-anchor="end" fill="#111">0.4</text>
<text transform="translate(225.8,1637.9) scale(1,1.08)" font-family="'Liberation Serif','Times New Roman',serif" font-size="27.5" text-anchor="end" fill="#111">0.5</text>
<text transform="translate(225.8,1596.3) scale(1,1.08)" font-family="'Liberation Serif','Times New Roman',serif" font-size="27.5" text-anchor="end" fill="#111">0.6</text>
<text transform="translate(225.8,1554.7) scale(1,1.08)" font-family="'Liberation Serif','Times New Roman',serif" font-size="27.5" text-anchor="end" fill="#111">0.7</text>
<text transform="translate(225.8,1513.0) scale(1,1.08)" font-family="'Liberation Serif','Times New Roman',serif" font-size="27.5" text-anchor="end" fill="#111">0.8</text>
<text transform="translate(225.8,1471.4) scale(1,1.08)" font-family="'Liberation Serif','Times New Roman',serif" font-size="27.5" text-anchor="end" fill="#111">0.9</text>
<text transform="translate(225.8,1429.8) scale(1,1.08)" font-family="'Liberation Serif','Times New Roman',serif" font-size="27.5" text-anchor="end" fill="#111">1.0</text>
<text transform="translate(225.8,1388.1) scale(1,1.08)" font-family="'Liberation Serif','Times New Roman',serif" font-size="27.5" text-anchor="end" fill="#111">1.1</text>
<text transform="translate(225.8,1346.5) scale(1,1.08)" font-family="'Liberation Serif','Times New Roman',serif" font-size="27.5" text-anchor="end" fill="#111">1.2</text>
<text x="564.4" y="2042.8" font-family="'Liberation Serif','Times New Roman',serif" font-size="28" text-anchor="middle" fill="#111"><tspan font-style="italic">E</tspan> vs SCE / V</text>
<text transform="translate(155.8,1625.2) rotate(-90)" font-family="'Liberation Serif','Times New Roman',serif" font-size="29.4" text-anchor="middle" fill="#111"><tspan font-style="italic">j</tspan> / (mA cm<tspan font-size="16" dy="-12">-2</tspan><tspan dy="12">)</tspan></text>
<g><path d="M1256.7,1870.7 C1257.9,1869.1 1260.9,1863.4 1263.9,1860.8 C1266.9,1858.3 1270.7,1856.7 1274.6,1855.2 C1278.6,1853.6 1279.3,1852.9 1287.5,1851.4 C1295.7,1849.8 1311.7,1847.5 1323.7,1845.7 C1335.7,1843.8 1347.6,1841.9 1359.6,1840.4 C1371.5,1838.8 1387.5,1840.7 1395.4,1836.6 C1403.4,1832.4 1402.9,1824.6 1407.3,1815.3 C1411.6,1806.1 1416.8,1794.5 1421.6,1781.2 C1426.4,1767.9 1431.6,1746.5 1436.0,1735.6 C1440.3,1724.8 1443.8,1718.8 1447.4,1716.3 C1451.0,1713.8 1453.6,1718.4 1457.5,1720.5 C1461.3,1722.6 1465.3,1735.8 1470.7,1728.8 C1476.1,1721.9 1483.6,1695.9 1489.7,1678.7 C1495.9,1661.5 1502.9,1639.5 1507.6,1625.6 C1512.4,1611.7 1515.6,1602.3 1518.4,1595.3 C1521.2,1588.2 1522.1,1583.5 1524.5,1583.5 C1526.9,1583.5 1529.6,1588.2 1532.7,1595.3 C1535.9,1602.3 1539.3,1618.3 1543.5,1625.6 C1547.7,1632.9 1551.4,1635.1 1557.8,1638.9 C1564.2,1642.7 1574.7,1648.1 1581.9,1648.4 C1589.0,1648.7 1595.0,1645.5 1600.9,1640.8 C1606.7,1636.0 1611.6,1631.9 1617.0,1619.9 C1622.4,1607.9 1627.3,1587.0 1633.1,1568.7 C1639.0,1550.4 1644.6,1533.0 1652.1,1510.3 C1659.7,1487.5 1671.8,1451.7 1678.3,1432.1 C1684.8,1412.6 1686.8,1402.8 1691.2,1393.0 C1695.6,1383.2 1700.5,1375.6 1704.8,1373.3 C1709.2,1371.0 1713.1,1375.1 1717.4,1379.0 C1721.6,1382.9 1725.9,1392.1 1730.3,1396.8 C1734.6,1401.6 1738.7,1405.5 1743.5,1407.4 C1748.4,1409.4 1756.9,1403.2 1759.3,1408.6 C1761.7,1414.0 1759.2,1428.8 1757.9,1439.7 C1756.6,1450.6 1754.3,1461.2 1751.4,1473.8 C1748.6,1486.5 1744.4,1502.3 1740.7,1515.6 C1737.0,1528.9 1732.8,1540.9 1729.2,1553.5 C1725.6,1566.2 1722.0,1580.4 1719.2,1591.5 C1716.3,1602.5 1714.4,1611.7 1712.0,1619.9 C1709.6,1628.1 1707.8,1632.9 1704.8,1640.8 C1701.8,1648.7 1697.8,1659.1 1694.1,1667.3 C1690.4,1675.6 1687.4,1680.6 1682.6,1690.1 C1677.8,1699.6 1671.4,1713.9 1665.4,1724.3 C1659.4,1734.6 1655.9,1744.7 1646.7,1752.3 C1637.6,1760.0 1622.5,1765.4 1610.5,1770.2 C1598.5,1774.9 1586.6,1777.8 1574.7,1780.8 C1562.7,1783.8 1547.8,1785.0 1538.8,1788.0 C1529.9,1791.0 1526.9,1794.8 1520.9,1799.0 C1514.9,1803.2 1509.0,1807.5 1503.0,1813.4 C1497.0,1819.4 1491.0,1830.5 1485.1,1834.7 C1479.1,1838.8 1473.1,1837.5 1467.1,1838.5 C1461.2,1839.4 1455.2,1837.4 1449.2,1840.4 C1443.2,1843.3 1437.3,1849.5 1431.3,1856.3 C1425.3,1863.1 1418.1,1873.9 1413.4,1881.3 C1408.6,1888.8 1406.8,1900.4 1402.6,1901.1 C1398.4,1901.7 1395.4,1889.9 1388.3,1885.1 C1381.1,1880.4 1370.3,1875.0 1359.6,1872.6 C1348.8,1870.2 1334.9,1870.8 1323.7,1870.7 C1312.6,1870.6 1303.7,1871.6 1292.5,1872.2 C1281.4,1872.9 1262.7,1874.1 1256.7,1874.5" fill="none" stroke="#80ff80" stroke-width="1.6" stroke-opacity="1" stroke-linejoin="round"/><path d="M1256.7,1870.7 C1257.9,1869.1 1260.9,1863.4 1263.9,1860.8 C1266.9,1858.3 1270.7,1856.7 1274.6,1855.2 C1278.6,1853.6 1279.3,1852.9 1287.5,1851.4 C1295.7,1849.8 1311.7,1847.5 1323.7,1845.7 C1335.7,1843.8 1347.6,1841.9 1359.6,1840.4 C1371.5,1838.8 1387.5,1840.1 1395.4,1836.6 C1403.4,1833.0 1402.9,1826.4 1407.3,1819.1 C1411.6,1811.8 1416.8,1801.4 1421.6,1792.6 C1426.4,1783.7 1431.3,1772.7 1436.0,1766.0 C1440.6,1759.3 1445.0,1753.6 1449.2,1752.3 C1453.4,1751.1 1457.5,1756.9 1461.0,1758.4 C1464.6,1759.9 1465.9,1766.5 1470.7,1761.4 C1475.5,1756.4 1483.6,1742.5 1489.7,1728.1 C1495.9,1713.6 1503.5,1687.0 1507.6,1674.9 C1511.8,1662.9 1512.6,1660.7 1514.8,1656.0 C1517.0,1651.2 1518.5,1646.5 1520.9,1646.5 C1523.3,1646.5 1526.0,1651.2 1529.2,1656.0 C1532.3,1660.7 1535.1,1669.6 1539.9,1674.9 C1544.7,1680.3 1551.4,1684.9 1557.8,1688.2 C1564.2,1691.6 1571.1,1694.7 1578.3,1695.0 C1585.4,1695.4 1590.7,1702.6 1600.9,1690.1 C1611.0,1677.6 1628.5,1645.5 1639.2,1619.9 C1650.0,1594.3 1657.8,1561.2 1665.4,1536.5 C1673.0,1511.7 1679.3,1487.5 1684.7,1471.2 C1690.2,1454.9 1694.3,1444.8 1698.0,1438.6 C1701.7,1432.3 1703.7,1433.6 1707.0,1433.6 C1710.2,1433.6 1713.4,1435.3 1717.4,1438.6 C1721.3,1441.8 1726.3,1449.7 1730.6,1453.0 C1735.0,1456.3 1738.8,1458.3 1743.5,1458.3 C1748.3,1458.3 1757.0,1451.0 1759.3,1453.0 C1761.6,1454.9 1759.8,1466.6 1757.2,1470.1 C1754.5,1473.5 1747.6,1466.3 1743.5,1473.8 C1739.5,1481.4 1736.5,1502.3 1732.8,1515.6 C1729.1,1528.9 1724.9,1540.9 1721.3,1553.5 C1717.7,1566.2 1714.1,1580.4 1711.3,1591.5 C1708.4,1602.5 1706.5,1611.7 1704.1,1619.9 C1701.7,1628.1 1699.9,1632.9 1696.9,1640.8 C1694.0,1648.7 1689.9,1659.1 1686.2,1667.3 C1682.5,1675.6 1679.5,1680.6 1674.7,1690.1 C1669.9,1699.6 1663.5,1713.9 1657.5,1724.3 C1651.5,1734.6 1647.7,1744.7 1638.9,1752.3 C1630.0,1760.0 1615.6,1765.4 1604.3,1770.2 C1593.0,1774.9 1582.2,1777.8 1571.1,1780.8 C1560.0,1783.8 1546.2,1785.0 1537.9,1788.0 C1529.5,1791.0 1526.7,1794.8 1520.9,1799.0 C1515.1,1803.2 1509.0,1807.5 1503.0,1813.4 C1497.0,1819.4 1491.0,1830.5 1485.1,1834.7 C1479.1,1838.8 1473.1,1837.5 1467.1,1838.5 C1461.2,1839.4 1455.2,1837.4 1449.2,1840.4 C1443.2,1843.3 1437.3,1849.5 1431.3,1856.3 C1425.3,1863.1 1418.1,1873.9 1413.4,1881.3 C1408.6,1888.8 1406.8,1900.4 1402.6,1901.1 C1398.4,1901.7 1395.4,1889.9 1388.3,1885.1 C1381.1,1880.4 1370.3,1875.0 1359.6,1872.6 C1348.8,1870.2 1334.9,1870.8 1323.7,1870.7 C1312.6,1870.6 1303.7,1871.6 1292.5,1872.2 C1281.4,1872.9 1262.7,1874.1 1256.7,1874.5" fill="none" stroke="#80ff80" stroke-width="1.6" stroke-opacity="1" stroke-linejoin="round"/><path d="M1256.7,1870.7 C1257.9,1869.1 1260.9,1863.4 1263.9,1860.8 C1266.9,1858.3 1270.7,1856.7 1274.6,1855.2 C1278.6,1853.6 1279.3,1852.9 1287.5,1851.4 C1295.7,1849.8 1311.7,1847.5 1323.7,1845.7 C1335.7,1843.8 1347.6,1841.9 1359.6,1840.4 C1371.5,1838.8 1387.5,1839.8 1395.4,1836.6 C1403.4,1833.3 1402.9,1827.7 1407.3,1821.0 C1411.6,1814.3 1416.8,1804.9 1421.6,1796.3 C1426.4,1787.8 1431.2,1776.4 1436.0,1769.8 C1440.7,1763.1 1446.1,1757.8 1450.3,1756.5 C1454.5,1755.2 1457.6,1760.6 1461.0,1762.2 C1464.5,1763.8 1465.9,1771.1 1470.7,1766.0 C1475.5,1760.9 1483.6,1745.8 1489.7,1731.8 C1495.9,1717.9 1503.5,1693.6 1507.6,1682.5 C1511.8,1671.5 1512.6,1669.9 1514.8,1665.5 C1517.0,1661.0 1518.5,1655.9 1520.9,1655.6 C1523.3,1655.3 1526.0,1659.1 1529.2,1663.6 C1532.3,1668.0 1535.1,1676.8 1539.9,1682.5 C1544.7,1688.2 1551.4,1694.2 1557.8,1697.7 C1564.2,1701.2 1571.1,1703.8 1578.3,1703.8 C1585.4,1703.8 1590.0,1711.7 1600.9,1697.7 C1611.7,1683.7 1631.3,1646.8 1643.2,1619.9 C1655.0,1593.0 1663.8,1561.2 1671.8,1536.5 C1679.8,1511.7 1685.8,1485.1 1691.2,1471.2 C1696.6,1457.3 1700.1,1455.1 1704.5,1453.0 C1708.8,1450.8 1713.0,1455.6 1717.4,1458.3 C1721.7,1460.9 1726.7,1466.5 1730.6,1468.9 C1734.6,1471.3 1736.3,1473.6 1741.0,1472.7 C1745.8,1471.8 1756.7,1462.1 1759.3,1463.6 C1761.9,1465.1 1758.8,1472.6 1756.4,1481.4 C1754.1,1490.3 1748.8,1504.5 1745.0,1516.7 C1741.2,1528.9 1737.1,1542.0 1733.5,1554.7 C1729.9,1567.3 1726.3,1581.5 1723.5,1592.6 C1720.6,1603.7 1718.7,1612.8 1716.3,1621.1 C1713.9,1629.3 1712.1,1634.0 1709.1,1641.9 C1706.1,1649.8 1702.1,1660.3 1698.4,1668.5 C1694.7,1676.7 1691.7,1681.8 1686.9,1691.2 C1682.1,1700.7 1675.7,1715.0 1669.7,1725.4 C1663.7,1735.8 1660.3,1745.8 1651.0,1753.5 C1641.8,1761.1 1626.3,1766.6 1613.9,1771.3 C1601.5,1776.0 1589.1,1779.0 1576.7,1781.9 C1564.2,1784.9 1548.7,1786.1 1539.4,1789.1 C1530.1,1792.2 1527.0,1795.9 1520.9,1800.1 C1514.9,1804.4 1509.0,1808.6 1503.0,1814.5 C1497.0,1820.4 1491.0,1831.4 1485.1,1835.4 C1479.1,1839.5 1473.1,1838.1 1467.1,1839.0 C1461.2,1839.8 1455.2,1837.7 1449.2,1840.6 C1443.2,1843.5 1437.3,1849.5 1431.3,1856.3 C1425.3,1863.1 1418.1,1873.9 1413.4,1881.3 C1408.6,1888.8 1406.8,1900.4 1402.6,1901.1 C1398.4,1901.7 1395.4,1889.9 1388.3,1885.1 C1381.1,1880.4 1370.3,1875.0 1359.6,1872.6 C1348.8,1870.2 1334.9,1870.8 1323.7,1870.7 C1312.6,1870.6 1303.7,1871.6 1292.5,1872.2 C1281.4,1872.9 1262.7,1874.1 1256.7,1874.5" fill="none" stroke="#33ff33" stroke-width="1.6" stroke-opacity="1" stroke-linejoin="round"/><path d="M1256.7,1870.7 C1257.9,1869.1 1260.9,1863.4 1263.9,1860.8 C1266.9,1858.3 1270.7,1856.7 1274.6,1855.2 C1278.6,1853.6 1279.3,1852.9 1287.5,1851.4 C1295.7,1849.8 1311.7,1847.5 1323.7,1845.7 C1335.7,1843.8 1347.6,1841.9 1359.6,1840.4 C1371.5,1838.8 1387.5,1839.5 1395.4,1836.6 C1403.4,1833.7 1402.9,1829.0 1407.3,1822.9 C1411.6,1816.8 1416.8,1807.7 1421.6,1800.1 C1426.4,1792.6 1431.3,1783.6 1436.0,1777.4 C1440.6,1771.2 1445.0,1764.9 1449.2,1763.0 C1453.4,1761.1 1457.5,1765.2 1461.0,1766.0 C1464.6,1766.8 1465.9,1772.3 1470.7,1767.9 C1475.5,1763.5 1483.6,1749.2 1489.7,1739.4 C1495.9,1729.6 1503.3,1715.9 1507.6,1709.1 C1512.0,1702.3 1512.5,1698.5 1515.5,1698.5 C1518.5,1698.5 1521.5,1706.0 1525.6,1709.1 C1529.6,1712.1 1533.9,1715.2 1539.9,1716.7 C1545.9,1718.2 1553.8,1717.9 1561.4,1718.2 C1569.0,1718.4 1577.3,1719.7 1585.4,1718.2 C1593.6,1716.7 1600.3,1719.5 1610.5,1709.1 C1620.8,1698.7 1637.6,1670.8 1646.7,1656.0 C1655.9,1641.1 1659.1,1637.6 1665.4,1619.9 C1671.7,1602.2 1679.3,1564.7 1684.7,1549.7 C1690.2,1534.7 1694.3,1533.7 1698.0,1530.0 C1701.7,1526.3 1703.7,1527.3 1707.0,1527.3 C1710.2,1527.3 1713.4,1528.5 1717.4,1530.0 C1721.3,1531.5 1726.3,1535.4 1730.6,1536.5 C1735.0,1537.5 1738.8,1537.5 1743.5,1536.5 C1748.3,1535.4 1757.2,1527.8 1759.3,1530.0 C1761.5,1532.2 1757.9,1537.8 1756.4,1549.7 C1755.0,1561.6 1752.9,1589.3 1750.7,1601.3 C1748.6,1613.3 1745.9,1612.8 1743.5,1621.8 C1741.2,1630.8 1740.6,1642.4 1736.4,1655.2 C1732.2,1668.0 1724.4,1686.4 1718.4,1698.5 C1712.5,1710.5 1706.5,1718.3 1700.5,1727.3 C1694.5,1736.3 1691.6,1742.8 1682.6,1752.3 C1673.6,1761.9 1658.8,1776.8 1646.7,1784.6 C1634.7,1792.4 1622.5,1794.8 1610.5,1799.0 C1598.5,1803.2 1586.6,1806.7 1574.7,1809.6 C1562.7,1812.6 1550.8,1813.2 1538.8,1816.8 C1526.9,1820.4 1512.0,1827.1 1503.0,1831.3 C1494.0,1835.4 1491.0,1839.5 1485.1,1841.9 C1479.1,1844.3 1473.1,1844.5 1467.1,1845.7 C1461.2,1846.9 1455.2,1846.1 1449.2,1849.1 C1443.2,1852.1 1437.3,1858.7 1431.3,1863.5 C1425.3,1868.3 1418.1,1874.9 1413.4,1877.9 C1408.6,1880.9 1406.8,1882.0 1402.6,1881.3 C1398.4,1880.7 1395.4,1876.5 1388.3,1874.1 C1381.1,1871.8 1370.3,1868.8 1359.6,1867.3 C1348.8,1865.8 1334.9,1865.2 1323.7,1865.4 C1312.6,1865.6 1303.7,1867.2 1292.5,1868.4 C1281.4,1869.6 1262.7,1871.9 1256.7,1872.6" fill="none" stroke="#8c8cff" stroke-width="1.4" stroke-opacity="1" stroke-linejoin="round"/><path d="M1256.7,1870.7 C1257.9,1869.1 1260.9,1863.4 1263.9,1860.8 C1266.9,1858.3 1270.7,1856.7 1274.6,1855.2 C1278.6,1853.6 1279.3,1852.9 1287.5,1851.4 C1295.7,1849.8 1311.7,1847.5 1323.7,1845.7 C1335.7,1843.8 1347.6,1841.9 1359.6,1840.4 C1371.5,1838.8 1387.5,1838.8 1395.4,1836.6 C1403.4,1834.3 1402.9,1831.2 1407.3,1826.7 C1411.6,1822.2 1416.8,1814.7 1421.6,1809.6 C1426.4,1804.6 1431.1,1800.0 1436.0,1796.3 C1440.8,1792.7 1446.8,1789.1 1451.0,1788.0 C1455.2,1786.9 1457.6,1789.1 1461.0,1789.5 C1464.5,1790.0 1467.0,1794.6 1471.8,1790.7 C1476.6,1786.7 1484.3,1774.5 1489.7,1766.0 C1495.1,1757.5 1500.1,1746.2 1504.1,1739.4 C1508.1,1732.7 1510.2,1726.0 1513.7,1725.4 C1517.3,1724.8 1521.2,1732.7 1525.6,1735.6 C1529.9,1738.6 1533.9,1741.6 1539.9,1743.2 C1545.9,1744.8 1555.6,1744.8 1561.4,1745.1 C1567.2,1745.4 1566.5,1746.4 1574.7,1745.1 C1582.9,1743.9 1598.5,1746.7 1610.5,1737.5 C1622.5,1728.4 1636.5,1709.7 1646.7,1690.1 C1657.0,1670.5 1664.4,1640.1 1671.8,1619.9 C1679.3,1599.7 1685.8,1578.8 1691.2,1569.1 C1696.6,1559.3 1700.1,1562.1 1704.5,1561.5 C1708.8,1560.9 1713.0,1564.2 1717.4,1565.3 C1721.7,1566.4 1726.3,1567.9 1730.6,1567.9 C1735.0,1567.9 1738.8,1567.9 1743.5,1565.3 C1748.3,1562.7 1758.2,1548.5 1759.3,1552.4 C1760.4,1556.3 1753.5,1577.6 1750.0,1588.8 C1746.5,1600.1 1742.7,1606.2 1738.2,1619.9 C1733.6,1633.6 1728.7,1653.2 1722.8,1671.1 C1716.8,1689.0 1709.0,1713.8 1702.7,1727.3 C1696.3,1740.8 1693.7,1742.8 1684.7,1752.3 C1675.8,1761.9 1661.0,1776.8 1648.9,1784.6 C1636.8,1792.4 1624.4,1794.8 1612.2,1799.0 C1600.0,1803.2 1587.9,1806.7 1575.7,1809.6 C1563.5,1812.6 1551.2,1813.2 1539.1,1816.8 C1527.0,1820.4 1512.0,1827.1 1503.0,1831.3 C1494.0,1835.4 1491.0,1839.5 1485.1,1841.9 C1479.1,1844.3 1473.1,1844.5 1467.1,1845.7 C1461.2,1846.9 1455.2,1846.1 1449.2,1849.1 C1443.2,1852.1 1437.3,1858.7 1431.3,1863.5 C1425.3,1868.3 1418.1,1874.9 1413.4,1877.9 C1408.6,1880.9 1406.8,1882.0 1402.6,1881.3 C1398.4,1880.7 1395.4,1876.5 1388.3,1874.1 C1381.1,1871.8 1370.3,1868.8 1359.6,1867.3 C1348.8,1865.8 1334.9,1865.2 1323.7,1865.4 C1312.6,1865.6 1303.7,1867.2 1292.5,1868.4 C1281.4,1869.6 1262.7,1871.9 1256.7,1872.6" fill="none" stroke="#8c8cff" stroke-width="1.4" stroke-opacity="1" stroke-linejoin="round"/><path d="M1256.7,1873.0 C1257.9,1871.3 1260.9,1865.7 1263.9,1863.1 C1266.9,1860.5 1270.7,1859.0 1274.6,1857.4 C1278.6,1855.9 1279.3,1855.2 1287.5,1853.6 C1295.7,1852.1 1311.7,1849.8 1323.7,1847.9 C1335.7,1846.1 1347.6,1844.2 1359.6,1842.6 C1371.5,1841.1 1387.5,1841.1 1395.4,1838.8 C1403.4,1836.6 1402.9,1833.5 1407.3,1829.0 C1411.6,1824.5 1416.8,1817.0 1421.6,1811.9 C1426.4,1806.8 1431.1,1802.2 1436.0,1798.6 C1440.8,1795.0 1446.8,1791.4 1451.0,1790.3 C1455.2,1789.1 1457.6,1791.4 1461.0,1791.8 C1464.5,1792.2 1467.0,1796.9 1471.8,1792.9 C1476.6,1789.0 1484.3,1776.8 1489.7,1768.3 C1495.1,1759.7 1500.1,1748.5 1504.1,1741.7 C1508.1,1734.9 1510.2,1728.3 1513.7,1727.7 C1517.3,1727.0 1521.2,1734.9 1525.6,1737.9 C1529.9,1740.9 1533.9,1743.9 1539.9,1745.5 C1545.9,1747.1 1555.6,1747.1 1561.4,1747.4 C1567.2,1747.7 1566.5,1748.7 1574.7,1747.4 C1582.9,1746.1 1598.5,1749.0 1610.5,1739.8 C1622.5,1730.6 1636.5,1712.0 1646.7,1692.4 C1657.0,1672.8 1665.2,1640.3 1671.8,1622.2 C1678.5,1604.1 1682.8,1591.9 1686.9,1583.9 C1691.0,1575.8 1693.0,1576.0 1696.6,1574.0 C1700.2,1572.0 1702.7,1571.4 1708.4,1571.7 C1714.1,1572.1 1724.8,1575.8 1730.6,1575.9 C1736.5,1576.0 1738.8,1575.4 1743.5,1572.5 C1748.3,1569.6 1758.2,1555.3 1759.3,1558.5 C1760.4,1561.6 1753.5,1580.9 1750.0,1591.5 C1746.5,1602.0 1742.7,1607.9 1738.2,1621.8 C1733.6,1635.7 1728.4,1657.2 1722.8,1674.9 C1717.1,1692.7 1710.2,1715.3 1704.1,1728.4 C1698.0,1741.5 1695.1,1743.9 1686.2,1753.5 C1677.2,1763.0 1662.5,1777.9 1650.3,1785.7 C1638.2,1793.5 1625.7,1796.0 1613.4,1800.1 C1601.0,1804.3 1588.7,1807.8 1576.3,1810.8 C1564.0,1813.7 1551.5,1814.4 1539.3,1818.0 C1527.1,1821.6 1512.0,1828.2 1503.0,1832.4 C1494.0,1836.6 1491.0,1840.6 1485.1,1843.0 C1479.1,1845.4 1473.1,1845.6 1467.1,1846.8 C1461.2,1848.0 1455.2,1847.3 1449.2,1850.2 C1443.2,1853.2 1437.3,1859.8 1431.3,1864.6 C1425.3,1869.4 1418.1,1876.1 1413.4,1879.1 C1408.6,1882.0 1406.8,1883.1 1402.6,1882.5 C1398.4,1881.8 1395.4,1877.6 1388.3,1875.3 C1381.1,1872.9 1370.3,1869.9 1359.6,1868.4 C1348.8,1867.0 1334.9,1866.3 1323.7,1866.5 C1312.6,1866.7 1303.7,1868.4 1292.5,1869.6 C1281.4,1870.8 1262.7,1873.1 1256.7,1873.7" fill="none" stroke="#3333ff" stroke-width="1.4" stroke-opacity="1" stroke-linejoin="round"/><path d="M1266.0,1856.3 C1269.6,1855.5 1277.9,1853.1 1287.5,1851.4 C1297.2,1849.6 1311.7,1847.5 1323.7,1845.7 C1335.7,1843.8 1347.6,1841.9 1359.6,1840.4 C1371.5,1838.8 1385.9,1837.5 1395.4,1836.6 C1405.0,1835.6 1411.0,1837.3 1416.9,1834.7 C1422.9,1832.1 1425.9,1825.2 1431.3,1821.0 C1436.7,1816.8 1443.2,1812.1 1449.2,1809.6 C1455.2,1807.2 1461.2,1808.4 1467.1,1806.2 C1473.1,1804.0 1479.1,1800.6 1485.1,1796.3 C1491.0,1792.0 1497.0,1784.1 1503.0,1780.4 C1509.0,1776.7 1512.0,1775.9 1520.9,1774.0 C1529.9,1772.0 1544.8,1770.7 1556.8,1768.7 C1568.7,1766.6 1580.7,1765.9 1592.6,1761.4 C1604.6,1757.0 1616.5,1752.1 1628.5,1741.7 C1640.4,1731.3 1655.3,1710.2 1664.3,1698.8 C1673.3,1687.5 1676.6,1680.1 1682.6,1673.4 C1688.6,1666.8 1694.5,1662.0 1700.5,1659.0 C1706.5,1656.0 1712.4,1657.0 1718.4,1655.2 C1724.5,1653.4 1730.3,1651.9 1737.1,1648.4 C1743.9,1644.8 1757.0,1629.8 1759.3,1634.0 C1761.6,1638.1 1754.5,1660.9 1750.7,1673.4 C1746.9,1685.9 1741.8,1698.3 1736.4,1709.1 C1731.0,1719.8 1724.4,1729.5 1718.4,1737.9 C1712.5,1746.3 1706.5,1753.6 1700.5,1759.5 C1694.5,1765.5 1691.6,1766.4 1682.6,1773.6 C1673.6,1780.7 1658.8,1795.8 1646.7,1802.4 C1634.7,1809.1 1622.5,1810.4 1610.5,1813.4 C1598.5,1816.4 1586.6,1818.2 1574.7,1820.2 C1562.7,1822.3 1550.8,1823.8 1538.8,1825.9 C1526.9,1828.1 1514.9,1829.9 1503.0,1833.2 C1491.0,1836.4 1479.1,1841.8 1467.1,1845.7 C1455.2,1849.5 1442.0,1853.0 1431.3,1856.3 C1420.5,1859.6 1414.6,1864.8 1402.6,1865.4 C1390.7,1866.0 1372.7,1860.8 1359.6,1860.1 C1346.4,1859.3 1334.9,1860.0 1323.7,1860.8 C1312.6,1861.7 1303.7,1863.9 1292.5,1865.4 C1281.4,1866.9 1262.7,1869.2 1256.7,1870.0" fill="none" stroke="#9a9a9a" stroke-width="1.4" stroke-opacity="1" stroke-linejoin="round"/><path d="M1256.7,1870.7 C1257.9,1869.1 1260.9,1863.4 1263.9,1860.8 C1266.9,1858.3 1270.7,1856.7 1274.6,1855.2 C1278.6,1853.6 1279.3,1852.9 1287.5,1851.4 C1295.7,1849.8 1311.7,1847.5 1323.7,1845.7 C1335.7,1843.8 1347.6,1841.9 1359.6,1840.4 C1371.5,1838.8 1385.9,1837.5 1395.4,1836.6 C1405.0,1835.6 1411.0,1836.3 1416.9,1834.7 C1422.9,1833.0 1425.9,1829.9 1431.3,1826.7 C1436.7,1823.5 1443.2,1817.5 1449.2,1815.3 C1455.2,1813.1 1461.2,1815.3 1467.1,1813.4 C1473.1,1811.5 1479.1,1808.0 1485.1,1803.9 C1491.0,1799.8 1497.0,1791.7 1503.0,1788.8 C1509.0,1785.8 1512.0,1787.7 1520.9,1786.5 C1529.9,1785.2 1544.8,1782.9 1556.8,1781.2 C1568.7,1779.4 1580.7,1780.0 1592.6,1775.9 C1604.6,1771.7 1616.5,1766.6 1628.5,1756.1 C1640.4,1745.6 1654.6,1724.8 1664.3,1712.9 C1674.1,1700.9 1679.6,1691.4 1686.9,1684.4 C1694.2,1677.5 1701.8,1674.6 1708.4,1671.1 C1715.0,1667.7 1720.4,1666.1 1726.3,1663.6 C1732.3,1661.0 1738.8,1658.5 1744.3,1656.0 C1749.8,1653.4 1757.8,1645.2 1759.3,1648.4 C1760.9,1651.5 1756.9,1664.6 1753.6,1674.9 C1750.2,1685.3 1744.6,1699.9 1739.2,1710.6 C1733.9,1721.4 1727.3,1731.0 1721.3,1739.4 C1715.3,1747.8 1709.4,1755.1 1703.4,1761.1 C1697.4,1767.0 1694.4,1768.0 1685.5,1775.1 C1676.5,1782.2 1661.7,1797.3 1649.6,1803.9 C1637.5,1810.6 1625.1,1812.0 1612.8,1814.9 C1600.5,1817.9 1588.3,1819.7 1576.0,1821.8 C1563.7,1823.9 1551.4,1825.3 1539.2,1827.5 C1527.0,1829.6 1515.0,1831.4 1503.0,1834.7 C1491.0,1838.0 1479.1,1843.3 1467.1,1847.2 C1455.2,1851.0 1442.0,1854.5 1431.3,1857.8 C1420.5,1861.1 1414.6,1866.3 1402.6,1866.9 C1390.7,1867.6 1372.7,1862.4 1359.6,1861.6 C1346.4,1860.8 1334.9,1861.5 1323.7,1862.4 C1312.6,1863.2 1303.7,1865.4 1292.5,1866.9 C1281.4,1868.4 1262.7,1870.7 1256.7,1871.5" fill="none" stroke="#333333" stroke-width="1.4" stroke-opacity="1" stroke-linejoin="round"/><path d="M1256.7,1873.7 C1257.9,1872.1 1260.9,1866.5 1263.9,1863.9 C1266.9,1861.3 1270.7,1859.8 1274.6,1858.2 C1278.6,1856.6 1279.3,1856.0 1287.5,1854.4 C1295.7,1852.8 1311.7,1850.5 1323.7,1848.7 C1335.7,1846.9 1347.6,1844.9 1359.6,1843.4 C1371.5,1841.9 1385.9,1840.5 1395.4,1839.6 C1405.0,1838.7 1411.0,1839.3 1416.9,1837.7 C1422.9,1836.1 1425.9,1833.0 1431.3,1829.7 C1436.7,1826.5 1443.2,1820.6 1449.2,1818.4 C1455.2,1816.1 1461.2,1818.4 1467.1,1816.5 C1473.1,1814.6 1479.1,1811.1 1485.1,1807.0 C1491.0,1802.9 1497.0,1794.7 1503.0,1791.8 C1509.0,1788.9 1512.0,1790.8 1520.9,1789.5 C1529.9,1788.3 1544.8,1786.0 1556.8,1784.2 C1568.7,1782.4 1580.7,1783.1 1592.6,1778.9 C1604.6,1774.7 1616.5,1769.7 1628.5,1759.2 C1640.4,1748.7 1654.6,1727.9 1664.3,1715.9 C1674.1,1704.0 1679.6,1694.4 1686.9,1687.5 C1694.2,1680.5 1701.8,1677.7 1708.4,1674.2 C1715.0,1670.7 1720.4,1669.1 1726.3,1666.6 C1732.3,1664.1 1738.8,1661.5 1744.3,1659.0 C1749.8,1656.5 1757.4,1648.6 1759.3,1651.4 C1761.2,1654.2 1758.7,1665.7 1755.7,1675.7 C1752.7,1685.7 1746.8,1700.6 1741.4,1711.4 C1736.0,1722.1 1729.4,1731.8 1723.5,1740.2 C1717.5,1748.6 1711.5,1755.9 1705.5,1761.8 C1699.6,1767.8 1696.6,1768.7 1687.6,1775.9 C1678.7,1783.0 1664.0,1798.1 1651.8,1804.7 C1639.6,1811.3 1627.0,1812.7 1614.5,1815.7 C1602.0,1818.7 1589.5,1820.4 1577.0,1822.5 C1564.5,1824.6 1551.8,1826.1 1539.5,1828.2 C1527.1,1830.4 1515.0,1832.1 1503.0,1835.4 C1490.9,1838.7 1479.1,1844.1 1467.1,1847.9 C1455.2,1851.8 1442.0,1855.3 1431.3,1858.6 C1420.5,1861.9 1414.6,1867.0 1402.6,1867.7 C1390.7,1868.3 1372.7,1863.1 1359.6,1862.4 C1346.4,1861.6 1334.9,1862.2 1323.7,1863.1 C1312.6,1864.0 1303.7,1866.2 1292.5,1867.7 C1281.4,1869.2 1262.7,1871.5 1256.7,1872.2" fill="none" stroke="#9a9a9a" stroke-width="1.4" stroke-opacity="1" stroke-linejoin="round"/></g>
<rect x="1185.0" y="1310.7" width="645.3" height="645.0" fill="none" stroke="#3a3a3a" stroke-width="2.4"/>
<path d="M1185.0,1955.7V1963.7 M1220.8,1955.7V1959.7 M1256.7,1955.7V1963.7 M1292.5,1955.7V1959.7 M1328.4,1955.7V1963.7 M1364.2,1955.7V1959.7 M1400.1,1955.7V1963.7 M1436.0,1955.7V1959.7 M1471.8,1955.7V1963.7 M1507.6,1955.7V1959.7 M1543.5,1955.7V1963.7 M1579.3,1955.7V1959.7 M1615.2,1955.7V1963.7 M1651.0,1955.7V1959.7 M1686.9,1955.7V1963.7 M1722.8,1955.7V1959.7 M1758.6,1955.7V1963.7 M1794.5,1955.7V1959.7 M1830.3,1955.7V1963.7 M1185.0,1955.7H1177.0 M1185.0,1936.7H1181.0 M1185.0,1917.8H1177.0 M1185.0,1898.8H1181.0 M1185.0,1879.8H1177.0 M1185.0,1860.8H1181.0 M1185.0,1841.9H1177.0 M1185.0,1822.9H1181.0 M1185.0,1803.9H1177.0 M1185.0,1785.0H1181.0 M1185.0,1766.0H1177.0 M1185.0,1747.0H1181.0 M1185.0,1728.1H1177.0 M1185.0,1709.1H1181.0 M1185.0,1690.1H1177.0 M1185.0,1671.1H1181.0 M1185.0,1652.2H1177.0 M1185.0,1633.2H1181.0 M1185.0,1614.2H1177.0 M1185.0,1595.3H1181.0 M1185.0,1576.3H1177.0 M1185.0,1557.3H1181.0 M1185.0,1538.3H1177.0 M1185.0,1519.4H1181.0 M1185.0,1500.4H1177.0 M1185.0,1481.4H1181.0 M1185.0,1462.5H1177.0 M1185.0,1443.5H1181.0 M1185.0,1424.5H1177.0 M1185.0,1405.6H1181.0 M1185.0,1386.6H1177.0 M1185.0,1367.6H1181.0 M1185.0,1348.6H1177.0 M1185.0,1329.7H1181.0 M1185.0,1310.7H1177.0" stroke="#333" stroke-width="2.2" fill="none"/>
<text transform="translate(1172.6,1992.7) scale(1,1.1)" font-family="'Liberation Serif','Times New Roman',serif" font-size="27.5" text-anchor="start" fill="#111">0.2</text>
<text transform="translate(1168.8,1992.7) scale(1.15,1.1)" font-family="'Liberation Serif','Times New Roman',serif" font-size="27.5" text-anchor="end" fill="#111">−</text>
<text transform="translate(1256.7,1992.7) scale(1,1.1)" font-family="'Liberation Serif','Times New Roman',serif" font-size="27.5" text-anchor="middle" fill="#111">0.0</text>
<text transform="translate(1328.4,1992.7) scale(1,1.1)" font-family="'Liberation Serif','Times New Roman',serif" font-size="27.5" text-anchor="middle" fill="#111">0.2</text>
<text transform="translate(1400.1,1992.7) scale(1,1.1)" font-family="'Liberation Serif','Times New Roman',serif" font-size="27.5" text-anchor="middle" fill="#111">0.4</text>
<text transform="translate(1471.8,1992.7) scale(1,1.1)" font-family="'Liberation Serif','Times New Roman',serif" font-size="27.5" text-anchor="middle" fill="#111">0.6</text>
<text transform="translate(1543.5,1992.7) scale(1,1.1)" font-family="'Liberation Serif','Times New Roman',serif" font-size="27.5" text-anchor="middle" fill="#111">0.8</text>
<text transform="translate(1615.2,1992.7) scale(1,1.1)" font-family="'Liberation Serif','Times New Roman',serif" font-size="27.5" text-anchor="middle" fill="#111">1.0</text>
<text transform="translate(1686.9,1992.7) scale(1,1.1)" font-family="'Liberation Serif','Times New Roman',serif" font-size="27.5" text-anchor="middle" fill="#111">1.2</text>
<text transform="translate(1758.6,1992.7) scale(1,1.1)" font-family="'Liberation Serif','Times New Roman',serif" font-size="27.5" text-anchor="middle" fill="#111">1.4</text>
<text transform="translate(1830.3,1992.7) scale(1,1.1)" font-family="'Liberation Serif','Times New Roman',serif" font-size="27.5" text-anchor="middle" fill="#111">1.6</text>
<text transform="translate(1169.0,1964.9) scale(1,1.08)" font-family="'Liberation Serif','Times New Roman',serif" font-size="27.5" text-anchor="end" fill="#111">0.3</text>
<text transform="translate(1131.0,1964.9) scale(1.15,1.08)" font-family="'Liberation Serif','Times New Roman',serif" font-size="27.5" text-anchor="end" fill="#111">−</text>
<text transform="translate(1169.0,1927.0) scale(1,1.08)" font-family="'Liberation Serif','Times New Roman',serif" font-size="27.5" text-anchor="end" fill="#111">0.2</text>
<text transform="translate(1131.0,1927.0) scale(1.15,1.08)" font-family="'Liberation Serif','Times New Roman',serif" font-size="27.5" text-anchor="end" fill="#111">−</text>
<text transform="translate(1169.0,1889.0) scale(1,1.08)" font-family="'Liberation Serif','Times New Roman',serif" font-size="27.5" text-anchor="end" fill="#111">0.1</text>
<text transform="translate(1131.0,1889.0) scale(1.15,1.08)" font-family="'Liberation Serif','Times New Roman',serif" font-size="27.5" text-anchor="end" fill="#111">−</text>
<text transform="translate(1169.0,1851.1) scale(1,1.08)" font-family="'Liberation Serif','Times New Roman',serif" font-size="27.5" text-anchor="end" fill="#111">0.0</text>
<text transform="translate(1169.0,1813.1) scale(1,1.08)" font-family="'Liberation Serif','Times New Roman',serif" font-size="27.5" text-anchor="end" fill="#111">0.1</text>
<text transform="translate(1169.0,1775.2) scale(1,1.08)" font-family="'Liberation Serif','Times New Roman',serif" font-size="27.5" text-anchor="end" fill="#111">0.2</text>
<text transform="translate(1169.0,1737.3) scale(1,1.08)" font-family="'Liberation Serif','Times New Roman',serif" font-size="27.5" text-anchor="end" fill="#111">0.3</text>
<text transform="translate(1169.0,1699.3) scale(1,1.08)" font-family="'Liberation Serif','Times New Roman',serif" font-size="27.5" text-anchor="end" fill="#111">0.4</text>
<text transform="translate(1169.0,1661.4) scale(1,1.08)" font-family="'Liberation Serif','Times New Roman',serif" font-size="27.5" text-anchor="end" fill="#111">0.5</text>
<text transform="translate(1169.0,1623.4) scale(1,1.08)" font-family="'Liberation Serif','Times New Roman',serif" font-size="27.5" text-anchor="end" fill="#111">0.6</text>
<text transform="translate(1169.0,1585.5) scale(1,1.08)" font-family="'Liberation Serif','Times New Roman',serif" font-size="27.5" text-anchor="end" fill="#111">0.7</text>
<text transform="translate(1169.0,1547.5) scale(1,1.08)" font-family="'Liberation Serif','Times New Roman',serif" font-size="27.5" text-anchor="end" fill="#111">0.8</text>
<text transform="translate(1169.0,1509.6) scale(1,1.08)" font-family="'Liberation Serif','Times New Roman',serif" font-size="27.5" text-anchor="end" fill="#111">0.9</text>
<text transform="translate(1169.0,1471.7) scale(1,1.08)" font-family="'Liberation Serif','Times New Roman',serif" font-size="27.5" text-anchor="end" fill="#111">1.0</text>
<text transform="translate(1169.0,1433.7) scale(1,1.08)" font-family="'Liberation Serif','Times New Roman',serif" font-size="27.5" text-anchor="end" fill="#111">1.1</text>
<text transform="translate(1169.0,1395.8) scale(1,1.08)" font-family="'Liberation Serif','Times New Roman',serif" font-size="27.5" text-anchor="end" fill="#111">1.2</text>
<text transform="translate(1169.0,1357.8) scale(1,1.08)" font-family="'Liberation Serif','Times New Roman',serif" font-size="27.5" text-anchor="end" fill="#111">1.3</text>
<text transform="translate(1169.0,1319.9) scale(1,1.08)" font-family="'Liberation Serif','Times New Roman',serif" font-size="27.5" text-anchor="end" fill="#111">1.4</text>
<text x="1507.7" y="2036.7" font-family="'Liberation Serif','Times New Roman',serif" font-size="28" text-anchor="middle" fill="#111"><tspan font-style="italic">E</tspan> vs SCE / V</text>
<text transform="translate(1099.0,1619.2) rotate(-90)" font-family="'Liberation Serif','Times New Roman',serif" font-size="29.4" text-anchor="middle" fill="#111"><tspan font-style="italic">j</tspan> / (mA cm<tspan font-size="16" dy="-12">-2</tspan><tspan dy="12">)</tspan></text>
<line x1="256.9" y1="556.5" x2="351.6" y2="556.5" stroke="#7dff7d" stroke-width="2"/><text x="363.0" y="572.1" font-family="'Liberation Serif','Times New Roman',serif" font-size="43.0" fill="#111">t0 - acid + KI</text><line x1="256.9" y1="608.6" x2="351.6" y2="608.6" stroke="#8080ff" stroke-width="2"/><text x="363.0" y="623.9" font-family="'Liberation Serif','Times New Roman',serif" font-size="43.0" fill="#111">T.E.</text><line x1="256.9" y1="660.9" x2="351.6" y2="660.9" stroke="#ff80ff" stroke-width="2"/><text x="363.0" y="676.4" font-family="'Liberation Serif','Times New Roman',serif" font-size="43.0" fill="#111">30min after T.E.</text><line x1="256.9" y1="713.4" x2="351.6" y2="713.4" stroke="#8c8c8c" stroke-width="2"/><text x="363.0" y="728.3" font-family="'Liberation Serif','Times New Roman',serif" font-size="43.0" fill="#111">1h after T.E.</text><line x1="1196.9" y1="560.4" x2="1296.9" y2="560.4" stroke="#7dff7d" stroke-width="2"/><text x="1310.0" y="575.5" font-family="'Liberation Serif','Times New Roman',serif" font-size="45.0" fill="#111">t0 - acid + KI</text><line x1="1196.9" y1="615.5" x2="1296.9" y2="615.5" stroke="#8080ff" stroke-width="2"/><text x="1310.0" y="631.9" font-family="'Liberation Serif','Times New Roman',serif" font-size="45.0" fill="#111">T.E.</text><line x1="1196.9" y1="670.7" x2="1296.9" y2="670.7" stroke="#8c8c8c" stroke-width="2"/><text x="1310.0" y="687.4" font-family="'Liberation Serif','Times New Roman',serif" font-size="45.0" fill="#111">1h after T.E.</text><line x1="253.4" y1="1355.4" x2="354.3" y2="1355.4" stroke="#7dff7d" stroke-width="2"/><text x="367.0" y="1371.0" font-family="'Liberation Serif','Times New Roman',serif" font-size="45.2" fill="#111">t0 - acid + KI</text><line x1="253.4" y1="1410.4" x2="354.3" y2="1410.4" stroke="#8080ff" stroke-width="2"/><text x="367.0" y="1426.0" font-family="'Liberation Serif','Times New Roman',serif" font-size="45.2" fill="#111">T.E.</text><line x1="253.4" y1="1465.9" x2="354.3" y2="1465.9" stroke="#ff80ff" stroke-width="2"/><text x="367.0" y="1482.0" font-family="'Liberation Serif','Times New Roman',serif" font-size="45.2" fill="#111">30min after T.E.</text><line x1="253.4" y1="1521.7" x2="354.3" y2="1521.7" stroke="#8c8c8c" stroke-width="2"/><text x="367.0" y="1537.2" font-family="'Liberation Serif','Times New Roman',serif" font-size="45.2" fill="#111">1h after T.E.</text><line x1="1196.9" y1="1347.7" x2="1291.6" y2="1347.7" stroke="#7dff7d" stroke-width="2"/><text x="1303.2" y="1363.0" font-family="'Liberation Serif','Times New Roman',serif" font-size="42.6" fill="#111">t0 - acid + KI</text><line x1="1196.9" y1="1400.2" x2="1291.6" y2="1400.2" stroke="#8080ff" stroke-width="2"/><text x="1303.2" y="1415.0" font-family="'Liberation Serif','Times New Roman',serif" font-size="42.6" fill="#111">T.E.</text><line x1="1196.9" y1="1452.5" x2="1291.6" y2="1452.5" stroke="#8c8c8c" stroke-width="2"/><text x="1303.2" y="1466.9" font-family="'Liberation Serif','Times New Roman',serif" font-size="42.6" fill="#111">1h after T.E.</text><path d="M681.1,649.0V754.0 M664.1,727.0 L681.1,757.0 L698.1,727.0" stroke="#c00000" stroke-width="4.8" fill="none" stroke-linejoin="miter" stroke-miterlimit="3" stroke-linecap="butt"/><path d="M1553.3,735.9V841.2 M1536.0,813.8 L1553.3,844.2 L1570.6,813.8" stroke="#c00000" stroke-width="4.8" fill="none" stroke-linejoin="miter" stroke-miterlimit="3" stroke-linecap="butt"/><path d="M681.1,1435.8V1540.8 M664.0,1514.0 L681.1,1543.8 L698.2,1514.0" stroke="#c00000" stroke-width="4.8" fill="none" stroke-linejoin="miter" stroke-miterlimit="3" stroke-linecap="butt"/><path d="M1573.0,1519.0V1622.4 M1555.6,1596.9 L1573.0,1625.4 L1590.4,1596.9" stroke="#c00000" stroke-width="4.8" fill="none" stroke-linejoin="miter" stroke-miterlimit="3" stroke-linecap="butt"/>
</svg></body></html>
